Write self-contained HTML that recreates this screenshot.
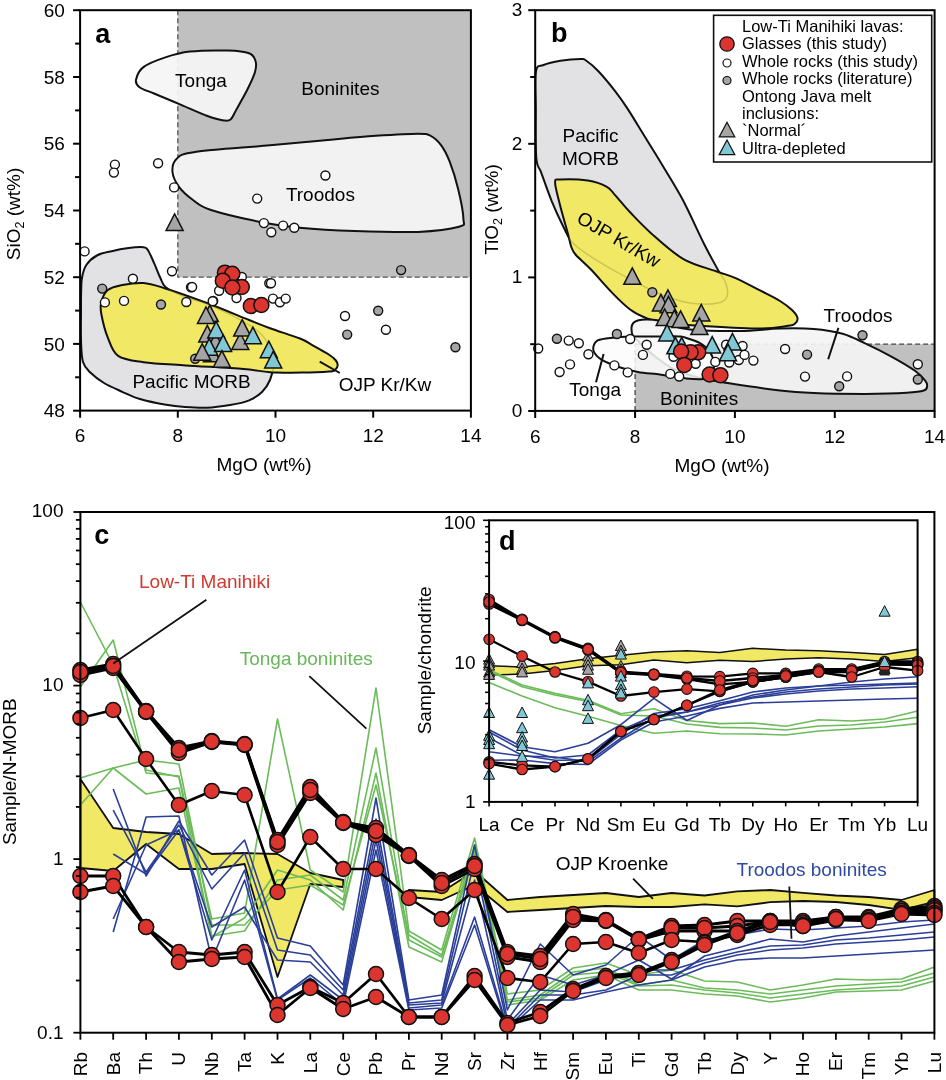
<!DOCTYPE html>
<html><head><meta charset="utf-8"><style>html,body{margin:0;padding:0;background:#fff;}svg{display:block;will-change:transform;}text{font-family:"Liberation Sans", sans-serif;}</style></head><body>
<svg width="946" height="1080" viewBox="0 0 946 1080">
<rect width="946" height="1080" fill="#fff"/><rect x="177.8" y="10.2" width="293.1" height="267" fill="#c0c0c0"/>
<path d="M177.8,10.2 L177.8,277.2 L470.9,277.2" fill="none" stroke="#555" stroke-width="1.3" stroke-dasharray="5,3"/>
<path d="M136,79.8 C136.7,76.4 138.6,70.8 143.4,67.1 C148.2,63.4 156.8,60.2 164.6,57.6 C172.3,55 179.3,52.8 189.9,51.6 C200.5,50.4 218.1,50.3 228,50.6 C237.9,50.9 244.5,51.6 249.1,53.3 C253.7,55 254.5,57.9 255.5,61 C256.5,64.1 256.4,67.1 255,72 C253.6,76.9 250.1,84.1 247,90.3 C243.9,96.5 239.2,104.5 236.4,109.4 C233.7,114.3 232.6,117.7 230.5,119.5 C228.4,121.3 227.8,121 223.8,120.4 C219.9,119.8 214.2,118.4 206.8,115.7 C199.4,113 188.2,107.8 179.4,104.1 C170.6,100.4 160.7,96.3 154,93.5 C147.3,90.7 142.5,89.5 139.5,87.2 C136.5,84.9 135.3,83.2 136,79.8Z" fill="#f5f5f5" fill-opacity="0.93" stroke="#111" stroke-width="2"/>
<path d="M176.5,158.9 C180.2,155.6 179.4,154.2 195,151.9 C210.6,149.6 246.9,147.4 270,145.3 C293.1,143.2 315.8,141 333.4,139.4 C351,137.8 361.6,136.8 375.7,135.8 C389.8,134.9 408.8,133.7 418,133.7 C427.2,133.7 426.8,133.9 430.7,135.8 C434.6,137.7 438,141 441.2,145.3 C444.4,149.6 446.9,154.4 449.7,161.7 C452.5,169 455.9,179.7 458.2,189.2 C460.5,198.7 463.3,212.5 463.4,218.8 C463.5,225.1 466.6,224.6 459,226.8 C451.4,229 435.4,231.2 418,231.9 C400.6,232.6 374.3,231.7 354.6,231 C334.9,230.3 314.7,229.1 299.6,227.7 C284.5,226.3 278.8,225.6 264,222.7 C249.2,219.8 222.8,213.8 211,210 C199.2,206.2 198.3,203.9 193,200 C187.7,196.1 182.4,191.5 179,186.8 C175.6,182.1 172.9,176.7 172.5,172 C172.1,167.3 172.8,162.2 176.5,158.9Z" fill="#f5f5f5" fill-opacity="0.93" stroke="#111" stroke-width="2"/>
<path d="M82,277.7 C82.8,273.5 83.8,268.7 86.3,265 C88.8,261.3 92.7,257.8 96.9,255.5 C101.1,253.2 106.4,252.4 111.7,251.2 C117,249.9 123.3,248.7 128.6,248 C133.9,247.3 140.2,246.8 143.4,247.2 C146.6,247.6 146.2,247.6 148,250.2 C149.8,252.8 151.9,258.3 154,262.9 C156.1,267.5 158.3,273.6 160.3,277.7 C162.3,281.8 161.9,284.3 166,287.5 C170.1,290.7 177.6,294.1 185,297 C192.4,299.9 200.7,301.1 210.4,305.2 C220.1,309.3 234.8,316.7 243.4,321.7 C252,326.7 257.5,330.3 262,335 C266.5,339.7 268.6,345 270.5,350 C272.4,355 273.6,360 273.5,365 C273.4,370 271.9,375.5 270,380 C268.1,384.5 265.5,388.6 262,392 C258.5,395.4 254.4,398.1 249.1,400.3 C243.8,402.5 237.1,403.8 230,405 C222.9,406.2 214.3,407.4 206.8,407.7 C199.3,408 192,407.5 185,407 C178,406.5 172.1,405.8 164.6,404.5 C157.1,403.2 147.1,401.1 140,399 C132.9,396.9 128.3,394.5 122.3,391.8 C116.3,389.1 109.3,386.2 104,383 C98.7,379.8 94.1,376.3 90.6,372.8 C87.1,369.3 84.6,367.5 83,362 C81.4,356.5 81.3,348.7 81,340 C80.7,331.3 81,318.3 81,310 C81,301.7 81,295.4 81.2,290 C81.4,284.6 81.2,281.9 82,277.7Z" fill="#e2e2e4" stroke="#111" stroke-width="2"/>
<clipPath id="cya"><path d="M101.1,303 C102.1,298.9 104,293.3 107.5,290.3 C111,287.3 116.3,286.2 122.3,285 C128.3,283.8 136.3,282.5 143.4,283 C150.5,283.5 154,284.9 164.6,288.2 C175.2,291.5 192.7,297.7 206.8,303 C220.9,308.3 238.6,315.8 249.1,320 C259.6,324.2 261.5,325.1 270,328.2 C278.5,331.3 292.9,335.7 300,338.5 C307.1,341.3 307.6,342.5 312.3,345.1 C317,347.7 324.1,351.5 328,354 C331.9,356.5 333.9,358.1 335.5,360 C337.1,361.9 337.8,363.5 337.7,365.2 C337.6,366.9 336.4,368.9 335,370 C333.6,371.1 334.8,371.2 329.2,371.6 C323.6,372 311.6,372.5 301.7,372.6 C291.8,372.7 279.7,372.8 270,372.2 C260.3,371.6 257.4,370.1 243.4,369 C229.3,367.9 202.4,366.5 185.7,365.4 C169,364.3 154.7,363.8 143.4,362.2 C132.1,360.6 124.1,360.1 118.1,355.9 C112.1,351.7 110.3,343.6 107.5,336.8 C104.7,330 102.6,320.6 101.5,315 C100.4,309.4 100.1,307.1 101.1,303Z"/></clipPath>
<path d="M101.1,303 C102.1,298.9 104,293.3 107.5,290.3 C111,287.3 116.3,286.2 122.3,285 C128.3,283.8 136.3,282.5 143.4,283 C150.5,283.5 154,284.9 164.6,288.2 C175.2,291.5 192.7,297.7 206.8,303 C220.9,308.3 238.6,315.8 249.1,320 C259.6,324.2 261.5,325.1 270,328.2 C278.5,331.3 292.9,335.7 300,338.5 C307.1,341.3 307.6,342.5 312.3,345.1 C317,347.7 324.1,351.5 328,354 C331.9,356.5 333.9,358.1 335.5,360 C337.1,361.9 337.8,363.5 337.7,365.2 C337.6,366.9 336.4,368.9 335,370 C333.6,371.1 334.8,371.2 329.2,371.6 C323.6,372 311.6,372.5 301.7,372.6 C291.8,372.7 279.7,372.8 270,372.2 C260.3,371.6 257.4,370.1 243.4,369 C229.3,367.9 202.4,366.5 185.7,365.4 C169,364.3 154.7,363.8 143.4,362.2 C132.1,360.6 124.1,360.1 118.1,355.9 C112.1,351.7 110.3,343.6 107.5,336.8 C104.7,330 102.6,320.6 101.5,315 C100.4,309.4 100.1,307.1 101.1,303Z" fill="#f1e965" stroke="#111" stroke-width="2"/>
<path d="M82,277.7 C82.8,273.5 83.8,268.7 86.3,265 C88.8,261.3 92.7,257.8 96.9,255.5 C101.1,253.2 106.4,252.4 111.7,251.2 C117,249.9 123.3,248.7 128.6,248 C133.9,247.3 140.2,246.8 143.4,247.2 C146.6,247.6 146.2,247.6 148,250.2 C149.8,252.8 151.9,258.3 154,262.9 C156.1,267.5 158.3,273.6 160.3,277.7 C162.3,281.8 161.9,284.3 166,287.5 C170.1,290.7 177.6,294.1 185,297 C192.4,299.9 200.7,301.1 210.4,305.2 C220.1,309.3 234.8,316.7 243.4,321.7 C252,326.7 257.5,330.3 262,335 C266.5,339.7 268.6,345 270.5,350 C272.4,355 273.6,360 273.5,365 C273.4,370 271.9,375.5 270,380 C268.1,384.5 265.5,388.6 262,392 C258.5,395.4 254.4,398.1 249.1,400.3 C243.8,402.5 237.1,403.8 230,405 C222.9,406.2 214.3,407.4 206.8,407.7 C199.3,408 192,407.5 185,407 C178,406.5 172.1,405.8 164.6,404.5 C157.1,403.2 147.1,401.1 140,399 C132.9,396.9 128.3,394.5 122.3,391.8 C116.3,389.1 109.3,386.2 104,383 C98.7,379.8 94.1,376.3 90.6,372.8 C87.1,369.3 84.6,367.5 83,362 C81.4,356.5 81.3,348.7 81,340 C80.7,331.3 81,318.3 81,310 C81,301.7 81,295.4 81.2,290 C81.4,284.6 81.2,281.9 82,277.7Z" fill="none" stroke="#8a8430" stroke-opacity="0.35" stroke-width="1.5" clip-path="url(#cya)"/>
<path d="M319.7,361.6 L339.8,373" stroke="#111" stroke-width="2"/>
<text x="175.1" y="86.5" font-size="19" text-anchor="start" fill="#000" font-weight="normal" >Tonga</text>
<text x="301.3" y="94.6" font-size="19" text-anchor="start" fill="#000" font-weight="normal" >Boninites</text>
<text x="285.9" y="201.3" font-size="19" text-anchor="start" fill="#000" font-weight="normal" >Troodos</text>
<text x="132.4" y="387.6" font-size="19" text-anchor="start" fill="#000" font-weight="normal" >Pacific MORB</text>
<text x="338.7" y="391.2" font-size="19" text-anchor="start" fill="#000" font-weight="normal" >OJP Kr/Kw</text>
<circle cx="114.9" cy="164.6" r="4.5" fill="#fff" stroke="#111" stroke-width="1.4"/>
<circle cx="113.9" cy="172.6" r="4.5" fill="#fff" stroke="#111" stroke-width="1.4"/>
<circle cx="158.1" cy="163.3" r="4.5" fill="#fff" stroke="#111" stroke-width="1.4"/>
<circle cx="174.1" cy="187.4" r="4.5" fill="#fff" stroke="#111" stroke-width="1.4"/>
<circle cx="257.2" cy="198.6" r="4.5" fill="#fff" stroke="#111" stroke-width="1.4"/>
<circle cx="325.4" cy="175.5" r="4.5" fill="#fff" stroke="#111" stroke-width="1.4"/>
<circle cx="283.1" cy="225.6" r="4.5" fill="#fff" stroke="#111" stroke-width="1.4"/>
<circle cx="294.3" cy="227.7" r="4.5" fill="#fff" stroke="#111" stroke-width="1.4"/>
<circle cx="271.3" cy="232.2" r="4.5" fill="#fff" stroke="#111" stroke-width="1.4"/>
<circle cx="263.9" cy="223.1" r="4.5" fill="#fff" stroke="#111" stroke-width="1.4"/>
<circle cx="84.6" cy="251.4" r="4.5" fill="#fff" stroke="#111" stroke-width="1.4"/>
<circle cx="172" cy="271.3" r="4.5" fill="#fff" stroke="#111" stroke-width="1.4"/>
<circle cx="132.9" cy="278.7" r="4.5" fill="#fff" stroke="#111" stroke-width="1.4"/>
<circle cx="191" cy="287.2" r="4.5" fill="#fff" stroke="#111" stroke-width="1.4"/>
<circle cx="104.9" cy="302.4" r="4.5" fill="#fff" stroke="#111" stroke-width="1.4"/>
<circle cx="124" cy="300.9" r="4.5" fill="#fff" stroke="#111" stroke-width="1.4"/>
<circle cx="186.3" cy="302" r="4.5" fill="#fff" stroke="#111" stroke-width="1.4"/>
<circle cx="213.2" cy="300.9" r="4.5" fill="#fff" stroke="#111" stroke-width="1.4"/>
<circle cx="241.8" cy="277" r="4.5" fill="#fff" stroke="#111" stroke-width="1.4"/>
<circle cx="219.1" cy="290.7" r="4.5" fill="#fff" stroke="#111" stroke-width="1.4"/>
<circle cx="236.5" cy="298.1" r="4.5" fill="#fff" stroke="#111" stroke-width="1.4"/>
<circle cx="192.1" cy="287" r="4.5" fill="#fff" stroke="#111" stroke-width="1.4"/>
<circle cx="212.7" cy="301.3" r="4.5" fill="#fff" stroke="#111" stroke-width="1.4"/>
<circle cx="269.3" cy="283.3" r="4.5" fill="#fff" stroke="#111" stroke-width="1.4"/>
<circle cx="273" cy="298.6" r="4.5" fill="#fff" stroke="#111" stroke-width="1.4"/>
<circle cx="279.9" cy="302.3" r="4.5" fill="#fff" stroke="#111" stroke-width="1.4"/>
<circle cx="285.7" cy="298.6" r="4.5" fill="#fff" stroke="#111" stroke-width="1.4"/>
<circle cx="271" cy="283.3" r="4.5" fill="#fff" stroke="#111" stroke-width="1.4"/>
<circle cx="345" cy="316" r="4.5" fill="#fff" stroke="#111" stroke-width="1.4"/>
<circle cx="385.9" cy="329.7" r="4.5" fill="#fff" stroke="#111" stroke-width="1.4"/>
<circle cx="102.2" cy="288.6" r="4.5" fill="#a5a5a6" stroke="#111" stroke-width="1.4"/>
<circle cx="161" cy="304.5" r="4.5" fill="#a5a5a6" stroke="#111" stroke-width="1.4"/>
<circle cx="195.2" cy="358.8" r="4.5" fill="#a5a5a6" stroke="#111" stroke-width="1.4"/>
<circle cx="401.1" cy="270.1" r="4.5" fill="#a5a5a6" stroke="#111" stroke-width="1.4"/>
<circle cx="378.2" cy="310.7" r="4.5" fill="#a5a5a6" stroke="#111" stroke-width="1.4"/>
<circle cx="347.2" cy="334.6" r="4.5" fill="#a5a5a6" stroke="#111" stroke-width="1.4"/>
<circle cx="455.4" cy="347.3" r="4.5" fill="#a5a5a6" stroke="#111" stroke-width="1.4"/>
<path d="M174.6,213.9 L183.1,230.4 L166.1,230.4 Z" fill="#a5a5a6" stroke="#111" stroke-width="1.5" stroke-linejoin="miter"/>
<path d="M209.8,305.1 L218.3,321.6 L201.3,321.6 Z" fill="#a5a5a6" stroke="#111" stroke-width="1.5" stroke-linejoin="miter"/>
<path d="M206,307 L214.5,323.5 L197.5,323.5 Z" fill="#a5a5a6" stroke="#111" stroke-width="1.5" stroke-linejoin="miter"/>
<path d="M207.3,325.4 L215.8,341.9 L198.8,341.9 Z" fill="#a5a5a6" stroke="#111" stroke-width="1.5" stroke-linejoin="miter"/>
<path d="M215.5,333.2 L224,349.7 L207,349.7 Z" fill="#a5a5a6" stroke="#111" stroke-width="1.5" stroke-linejoin="miter"/>
<path d="M216.2,321.5 L224.7,338 L207.7,338 Z" fill="#80c8d6" stroke="#111" stroke-width="1.5" stroke-linejoin="miter"/>
<path d="M212,345.2 L220.5,361.7 L203.5,361.7 Z" fill="#a5a5a6" stroke="#111" stroke-width="1.5" stroke-linejoin="miter"/>
<path d="M240.3,333 L248.8,349.5 L231.8,349.5 Z" fill="#a5a5a6" stroke="#111" stroke-width="1.5" stroke-linejoin="miter"/>
<path d="M209.2,338.7 L217.7,355.2 L200.7,355.2 Z" fill="#80c8d6" stroke="#111" stroke-width="1.5" stroke-linejoin="miter"/>
<path d="M223.1,334.9 L231.6,351.4 L214.6,351.4 Z" fill="#80c8d6" stroke="#111" stroke-width="1.5" stroke-linejoin="miter"/>
<path d="M202.2,343.7 L210.7,360.2 L193.7,360.2 Z" fill="#a5a5a6" stroke="#111" stroke-width="1.5" stroke-linejoin="miter"/>
<path d="M221.9,350.7 L230.4,367.2 L213.4,367.2 Z" fill="#a5a5a6" stroke="#111" stroke-width="1.5" stroke-linejoin="miter"/>
<path d="M242.2,319.6 L250.7,336.1 L233.7,336.1 Z" fill="#a5a5a6" stroke="#111" stroke-width="1.5" stroke-linejoin="miter"/>
<path d="M252.9,327.2 L261.4,343.7 L244.4,343.7 Z" fill="#80c8d6" stroke="#111" stroke-width="1.5" stroke-linejoin="miter"/>
<path d="M268.8,341.2 L277.3,357.7 L260.3,357.7 Z" fill="#80c8d6" stroke="#111" stroke-width="1.5" stroke-linejoin="miter"/>
<path d="M273.2,351.4 L281.7,367.9 L264.7,367.9 Z" fill="#80c8d6" stroke="#111" stroke-width="1.5" stroke-linejoin="miter"/>
<circle cx="224.9" cy="272.7" r="7.5" fill="#dc3530" stroke="#111" stroke-width="1.5"/>
<circle cx="232.3" cy="273.8" r="7.5" fill="#dc3530" stroke="#111" stroke-width="1.5"/>
<circle cx="222.8" cy="280.7" r="7.5" fill="#dc3530" stroke="#111" stroke-width="1.5"/>
<circle cx="241.8" cy="287" r="7.5" fill="#dc3530" stroke="#111" stroke-width="1.5"/>
<circle cx="232.3" cy="287.5" r="7.5" fill="#dc3530" stroke="#111" stroke-width="1.5"/>
<circle cx="250.8" cy="306" r="7.5" fill="#dc3530" stroke="#111" stroke-width="1.5"/>
<circle cx="261.4" cy="305" r="7.5" fill="#dc3530" stroke="#111" stroke-width="1.5"/>
<rect x="80.1" y="10.2" width="390.8" height="400.4" fill="none" stroke="#000" stroke-width="2"/>
<path d="M73.1,410.7 H80.1" stroke="#000" stroke-width="2"/>
<text x="64.8" y="417.3" font-size="19" text-anchor="end" fill="#000" font-weight="normal" >48</text>
<path d="M75.1,377.3 H80.1" stroke="#000" stroke-width="2"/>
<path d="M73.1,343.9 H80.1" stroke="#000" stroke-width="2"/>
<text x="64.8" y="350.6" font-size="19" text-anchor="end" fill="#000" font-weight="normal" >50</text>
<path d="M75.1,310.6 H80.1" stroke="#000" stroke-width="2"/>
<path d="M73.1,277.2 H80.1" stroke="#000" stroke-width="2"/>
<text x="64.8" y="283.8" font-size="19" text-anchor="end" fill="#000" font-weight="normal" >52</text>
<path d="M75.1,243.8 H80.1" stroke="#000" stroke-width="2"/>
<path d="M73.1,210.5 H80.1" stroke="#000" stroke-width="2"/>
<text x="64.8" y="217.1" font-size="19" text-anchor="end" fill="#000" font-weight="normal" >54</text>
<path d="M75.1,177.1 H80.1" stroke="#000" stroke-width="2"/>
<path d="M73.1,143.7 H80.1" stroke="#000" stroke-width="2"/>
<text x="64.8" y="150.3" font-size="19" text-anchor="end" fill="#000" font-weight="normal" >56</text>
<path d="M75.1,110.4 H80.1" stroke="#000" stroke-width="2"/>
<path d="M73.1,77 H80.1" stroke="#000" stroke-width="2"/>
<text x="64.8" y="83.6" font-size="19" text-anchor="end" fill="#000" font-weight="normal" >58</text>
<path d="M75.1,43.6 H80.1" stroke="#000" stroke-width="2"/>
<path d="M73.1,10.2 H80.1" stroke="#000" stroke-width="2"/>
<text x="64.8" y="16.9" font-size="19" text-anchor="end" fill="#000" font-weight="normal" >60</text>
<path d="M80.1,410.7 V417.7" stroke="#000" stroke-width="2"/>
<text x="80.1" y="442.3" font-size="19" text-anchor="middle" fill="#000" font-weight="normal" >6</text>
<path d="M177.8,410.7 V417.7" stroke="#000" stroke-width="2"/>
<text x="177.8" y="442.3" font-size="19" text-anchor="middle" fill="#000" font-weight="normal" >8</text>
<path d="M275.5,410.7 V417.7" stroke="#000" stroke-width="2"/>
<text x="275.5" y="442.3" font-size="19" text-anchor="middle" fill="#000" font-weight="normal" >10</text>
<path d="M373.2,410.7 V417.7" stroke="#000" stroke-width="2"/>
<text x="373.2" y="442.3" font-size="19" text-anchor="middle" fill="#000" font-weight="normal" >12</text>
<path d="M470.9,410.7 V417.7" stroke="#000" stroke-width="2"/>
<text x="470.9" y="442.3" font-size="19" text-anchor="middle" fill="#000" font-weight="normal" >14</text>
<text x="264" y="470.9" font-size="19" text-anchor="middle" fill="#000" font-weight="normal" >MgO (wt%)</text>
<text transform="translate(19.7,214) rotate(-90)" font-size="19" text-anchor="middle">SiO<tspan font-size="12.5" dy="4">2</tspan><tspan dy="-4"> (wt%)</tspan></text>
<text x="95.2" y="42.8" font-size="27" text-anchor="start" fill="#000" font-weight="bold" >a</text>
<rect x="635.1" y="344.2" width="299.5" height="66.8" fill="#c0c0c0"/>
<path d="M536,71.3 C537.3,63.8 539.4,66.8 543.5,65 C547.6,63.2 554.2,61.7 560.4,60.7 C566.6,59.7 576.2,59 580.5,59 C584.8,59 583,58.5 586,60.5 C589,62.5 593.5,66.1 598.4,71.3 C603.3,76.5 610.4,85.1 615.3,91.4 C620.2,97.8 623.1,101.8 628,109.4 C632.9,117 639.3,127.7 644.9,136.8 C650.5,146 655.4,153.7 661.8,164.3 C668.1,174.9 676,187 683,200.3 C690,213.6 698.1,232.1 704.1,244 C710.1,255.9 715.4,265.2 718.9,271.5 C722.4,277.8 723.9,278.1 725.3,282 C726.7,285.9 728.3,291.3 727.4,294.7 C726.5,298.1 725.6,301 720,302.5 C714.4,304 703.3,304.8 693.6,303.5 C683.9,302.2 674.1,299.7 661.8,294.7 C649.5,289.7 631.9,280.3 619.6,273.6 C607.3,266.9 595.8,259.9 587.9,254.6 C580,249.3 576.1,246.8 572,242 C567.9,237.2 566.4,232.7 563,226 C559.6,219.3 555.5,210.6 551.9,201.7 C548.3,192.8 543.9,180.1 541.3,172.8 C538.7,165.5 537.2,168.5 536.3,158 C535.4,147.5 535.8,124.5 535.8,110 C535.8,95.5 534.7,78.8 536,71.3Z" fill="#e2e2e4" stroke="#111" stroke-width="2"/>
<clipPath id="cyb"><path d="M555.1,182.7 C555.2,178.4 554.9,179.8 560.4,179.5 C565.9,179.2 580.1,179.4 587.9,180.6 C595.6,181.8 602.3,184.4 606.9,186.9 C611.5,189.4 611.4,191.2 615.3,195.4 C619.2,199.6 624.1,206 630.1,212.3 C636.1,218.6 642.5,225.7 651.3,233.4 C660.1,241.2 672.1,252.5 683,258.8 C693.9,265.2 708.1,268.3 716.8,271.5 C725.5,274.7 727.8,274.7 735,277.8 C742.2,280.9 752.5,286.5 760,290.4 C767.5,294.3 774.7,297.7 780,301 C785.3,304.3 789.1,307.2 792,310 C794.9,312.8 797,315.8 797.5,318 C798,320.2 796.6,322.2 795,323.5 C793.4,324.8 793.8,325 788,325.8 C782.2,326.6 774.1,328.5 760,328.5 C745.9,328.5 719.2,326.9 703.4,326 C687.6,325.1 674.8,324.2 665.4,323 C656,321.8 652.9,320.8 647,318.5 C641.1,316.2 635.9,313.8 630.1,309.5 C624.3,305.2 618.5,299.3 612,292.6 C605.5,285.9 597.1,275.9 591,269.5 C584.9,263.1 578.8,258.4 575.5,254.5 C572.2,250.6 572.2,249.4 571,246 C569.8,242.6 569.8,240.8 568,234 C566.2,227.2 562.1,213.6 560,205 C557.9,196.4 555,186.9 555.1,182.7Z"/></clipPath>
<path d="M555.1,182.7 C555.2,178.4 554.9,179.8 560.4,179.5 C565.9,179.2 580.1,179.4 587.9,180.6 C595.6,181.8 602.3,184.4 606.9,186.9 C611.5,189.4 611.4,191.2 615.3,195.4 C619.2,199.6 624.1,206 630.1,212.3 C636.1,218.6 642.5,225.7 651.3,233.4 C660.1,241.2 672.1,252.5 683,258.8 C693.9,265.2 708.1,268.3 716.8,271.5 C725.5,274.7 727.8,274.7 735,277.8 C742.2,280.9 752.5,286.5 760,290.4 C767.5,294.3 774.7,297.7 780,301 C785.3,304.3 789.1,307.2 792,310 C794.9,312.8 797,315.8 797.5,318 C798,320.2 796.6,322.2 795,323.5 C793.4,324.8 793.8,325 788,325.8 C782.2,326.6 774.1,328.5 760,328.5 C745.9,328.5 719.2,326.9 703.4,326 C687.6,325.1 674.8,324.2 665.4,323 C656,321.8 652.9,320.8 647,318.5 C641.1,316.2 635.9,313.8 630.1,309.5 C624.3,305.2 618.5,299.3 612,292.6 C605.5,285.9 597.1,275.9 591,269.5 C584.9,263.1 578.8,258.4 575.5,254.5 C572.2,250.6 572.2,249.4 571,246 C569.8,242.6 569.8,240.8 568,234 C566.2,227.2 562.1,213.6 560,205 C557.9,196.4 555,186.9 555.1,182.7Z" fill="#f1e965" stroke="#111" stroke-width="2"/>
<path d="M536,71.3 C537.3,63.8 539.4,66.8 543.5,65 C547.6,63.2 554.2,61.7 560.4,60.7 C566.6,59.7 576.2,59 580.5,59 C584.8,59 583,58.5 586,60.5 C589,62.5 593.5,66.1 598.4,71.3 C603.3,76.5 610.4,85.1 615.3,91.4 C620.2,97.8 623.1,101.8 628,109.4 C632.9,117 639.3,127.7 644.9,136.8 C650.5,146 655.4,153.7 661.8,164.3 C668.1,174.9 676,187 683,200.3 C690,213.6 698.1,232.1 704.1,244 C710.1,255.9 715.4,265.2 718.9,271.5 C722.4,277.8 723.9,278.1 725.3,282 C726.7,285.9 728.3,291.3 727.4,294.7 C726.5,298.1 725.6,301 720,302.5 C714.4,304 703.3,304.8 693.6,303.5 C683.9,302.2 674.1,299.7 661.8,294.7 C649.5,289.7 631.9,280.3 619.6,273.6 C607.3,266.9 595.8,259.9 587.9,254.6 C580,249.3 576.1,246.8 572,242 C567.9,237.2 566.4,232.7 563,226 C559.6,219.3 555.5,210.6 551.9,201.7 C548.3,192.8 543.9,180.1 541.3,172.8 C538.7,165.5 537.2,168.5 536.3,158 C535.4,147.5 535.8,124.5 535.8,110 C535.8,95.5 534.7,78.8 536,71.3Z" fill="none" stroke="#8a8430" stroke-opacity="0.35" stroke-width="1.5" clip-path="url(#cyb)"/>
<path d="M635.1,411 V344.2" stroke="#444" stroke-width="1.3" stroke-dasharray="5,3"/>
<path d="M635.1,344.2 H934.6" stroke="#444" stroke-width="1.3" stroke-dasharray="5,3"/>
<path d="M633,336 C631.6,333.5 631.4,330.1 631.5,327.9 C631.6,325.7 632.3,324.1 633.5,322.8 C634.7,321.5 636.6,320.8 638.6,320.3 C640.6,319.8 642.3,319.6 645.4,319.6 C648.5,319.6 653.1,319.4 657.2,320.3 C661.3,321.2 664.5,323.5 670,325 C675.5,326.5 678.3,328.5 690,329.5 C701.7,330.5 725,331.2 740,331 C755,330.8 767.7,328.8 780,328.5 C792.3,328.2 803.4,328.1 813.8,329 C824.2,329.9 834.1,331.4 842.6,333.8 C851.1,336.2 856.7,339.4 864.6,343.1 C872.5,346.8 881.5,351.2 890,355.8 C898.5,360.4 909.4,366.8 915.3,371 C921.2,375.2 923.5,378.6 925.5,381.2 C927.5,383.8 927.4,384.8 927.1,386.3 C926.8,387.9 927.2,389.4 923.8,390.5 C920.4,391.6 916.7,392.1 906.8,392.7 C896.9,393.3 880.1,393.8 864.6,393.9 C849.1,393.9 827.9,393.6 813.8,393 C799.7,392.4 793.9,392.1 780,390.5 C766.1,388.9 743.1,385.5 730.7,383.6 C718.3,381.7 712.5,380.6 705.4,379.1 C698.3,377.6 693.9,376.5 688,374.5 C682.1,372.5 676,370.4 670,367 C664,363.6 657,358 652,354 C647,350 643.2,346 640,343 C636.8,340 634.4,338.5 633,336Z" fill="#f4f4f4" fill-opacity="0.92" stroke="#111" stroke-width="2"/>
<path d="M593.3,347 C593.8,344.9 594.9,341.9 597.7,340.4 C600.6,338.9 604.5,338.5 610.4,337.9 C616.3,337.3 625,336.9 633.2,336.6 C641.4,336.4 652,336.4 659.7,336.4 C667.4,336.4 675,336.2 679.2,336.4 C683.4,336.6 681.5,336.4 685,337.5 C688.5,338.6 695.8,340.7 700,343.1 C704.2,345.5 707.7,348.5 710,352 C712.3,355.5 713.8,360.2 714,364 C714.2,367.8 712.8,372.5 711,375 C709.2,377.5 707.1,378.4 703,379 C698.9,379.6 693.5,379.2 686.5,378.5 C679.5,377.8 669.2,375.8 661.1,374.7 C653,373.6 644.8,373.3 637.8,372 C630.8,370.7 624.9,369.1 618.8,367 C612.7,364.9 605,361.6 601,359.3 C597,357 595.8,355.1 594.5,353 C593.2,350.9 592.8,349.1 593.3,347Z" fill="#fcfcfc" fill-opacity="0.85" stroke="#111" stroke-width="2"/>
<path d="M603.6,354 L596,382.2 M838.4,327.9 L828.2,359.2" stroke="#111" stroke-width="2"/>
<text x="590.5" y="142" font-size="19" text-anchor="middle" fill="#000" font-weight="normal" >Pacific</text>
<text x="590.5" y="165.2" font-size="19" text-anchor="middle" fill="#000" font-weight="normal" >MORB</text>
<text transform="translate(615.6,245) rotate(30)" font-size="19" text-anchor="middle">OJP Kr/Kw</text>
<text x="569.3" y="396.1" font-size="19" text-anchor="start" fill="#000" font-weight="normal" >Tonga</text>
<text x="660" y="404.5" font-size="19" text-anchor="start" fill="#000" font-weight="normal" >Boninites</text>
<text x="823.6" y="321.6" font-size="19" text-anchor="start" fill="#000" font-weight="normal" >Troodos</text>
<circle cx="538.2" cy="348.5" r="4.5" fill="#fff" stroke="#111" stroke-width="1.4"/>
<circle cx="568.7" cy="340.6" r="4.5" fill="#fff" stroke="#111" stroke-width="1.4"/>
<circle cx="578.8" cy="343.2" r="4.5" fill="#fff" stroke="#111" stroke-width="1.4"/>
<circle cx="588.4" cy="354.3" r="4.5" fill="#fff" stroke="#111" stroke-width="1.4"/>
<circle cx="570" cy="364.4" r="4.5" fill="#fff" stroke="#111" stroke-width="1.4"/>
<circle cx="559.6" cy="372" r="4.5" fill="#fff" stroke="#111" stroke-width="1.4"/>
<circle cx="630.2" cy="339" r="4.5" fill="#fff" stroke="#111" stroke-width="1.4"/>
<circle cx="614.4" cy="365.4" r="4.5" fill="#fff" stroke="#111" stroke-width="1.4"/>
<circle cx="627.7" cy="372.4" r="4.5" fill="#fff" stroke="#111" stroke-width="1.4"/>
<circle cx="646.7" cy="344.7" r="4.5" fill="#fff" stroke="#111" stroke-width="1.4"/>
<circle cx="642.9" cy="354.9" r="4.5" fill="#fff" stroke="#111" stroke-width="1.4"/>
<circle cx="673.5" cy="356.8" r="4.5" fill="#fff" stroke="#111" stroke-width="1.4"/>
<circle cx="695.7" cy="363.8" r="4.5" fill="#fff" stroke="#111" stroke-width="1.4"/>
<circle cx="670.3" cy="373.9" r="4.5" fill="#fff" stroke="#111" stroke-width="1.4"/>
<circle cx="679.2" cy="376.5" r="4.5" fill="#fff" stroke="#111" stroke-width="1.4"/>
<circle cx="715.3" cy="361.9" r="4.5" fill="#fff" stroke="#111" stroke-width="1.4"/>
<circle cx="729.3" cy="362.5" r="4.5" fill="#fff" stroke="#111" stroke-width="1.4"/>
<circle cx="738.8" cy="360" r="4.5" fill="#fff" stroke="#111" stroke-width="1.4"/>
<circle cx="726.1" cy="344.7" r="4.5" fill="#fff" stroke="#111" stroke-width="1.4"/>
<circle cx="742.6" cy="346" r="4.5" fill="#fff" stroke="#111" stroke-width="1.4"/>
<circle cx="744.5" cy="354.9" r="4.5" fill="#fff" stroke="#111" stroke-width="1.4"/>
<circle cx="753.4" cy="360.6" r="4.5" fill="#fff" stroke="#111" stroke-width="1.4"/>
<circle cx="785.1" cy="349" r="4.5" fill="#fff" stroke="#111" stroke-width="1.4"/>
<circle cx="805" cy="376.6" r="4.5" fill="#fff" stroke="#111" stroke-width="1.4"/>
<circle cx="847.1" cy="376.4" r="4.5" fill="#fff" stroke="#111" stroke-width="1.4"/>
<circle cx="917.8" cy="364.3" r="4.5" fill="#fff" stroke="#111" stroke-width="1.4"/>
<circle cx="556.9" cy="338.8" r="4.5" fill="#a5a5a6" stroke="#111" stroke-width="1.4"/>
<circle cx="616.9" cy="334" r="4.5" fill="#a5a5a6" stroke="#111" stroke-width="1.4"/>
<circle cx="652.3" cy="292.3" r="4.5" fill="#a5a5a6" stroke="#111" stroke-width="1.4"/>
<circle cx="807.1" cy="354.6" r="4.5" fill="#a5a5a6" stroke="#111" stroke-width="1.4"/>
<circle cx="862.5" cy="335.2" r="4.5" fill="#a5a5a6" stroke="#111" stroke-width="1.4"/>
<circle cx="839.2" cy="386.3" r="4.5" fill="#a5a5a6" stroke="#111" stroke-width="1.4"/>
<circle cx="917.8" cy="379.5" r="4.5" fill="#a5a5a6" stroke="#111" stroke-width="1.4"/>
<path d="M632.3,267.8 L640.8,284.3 L623.8,284.3 Z" fill="#a5a5a6" stroke="#111" stroke-width="1.5" stroke-linejoin="miter"/>
<path d="M667.9,289.9 L676.4,306.4 L659.4,306.4 Z" fill="#a5a5a6" stroke="#111" stroke-width="1.5" stroke-linejoin="miter"/>
<path d="M660.9,294.4 L669.4,310.9 L652.4,310.9 Z" fill="#a5a5a6" stroke="#111" stroke-width="1.5" stroke-linejoin="miter"/>
<path d="M668.5,296.3 L677,312.8 L660,312.8 Z" fill="#a5a5a6" stroke="#111" stroke-width="1.5" stroke-linejoin="miter"/>
<path d="M664.7,309 L673.2,325.5 L656.2,325.5 Z" fill="#a5a5a6" stroke="#111" stroke-width="1.5" stroke-linejoin="miter"/>
<path d="M674.3,310.2 L682.8,326.7 L665.8,326.7 Z" fill="#a5a5a6" stroke="#111" stroke-width="1.5" stroke-linejoin="miter"/>
<path d="M680.6,310.9 L689.1,327.4 L672.1,327.4 Z" fill="#a5a5a6" stroke="#111" stroke-width="1.5" stroke-linejoin="miter"/>
<path d="M701.3,304.5 L709.8,321 L692.8,321 Z" fill="#a5a5a6" stroke="#111" stroke-width="1.5" stroke-linejoin="miter"/>
<path d="M699.4,317.9 L707.9,334.4 L690.9,334.4 Z" fill="#a5a5a6" stroke="#111" stroke-width="1.5" stroke-linejoin="miter"/>
<path d="M667.1,324.5 L675.6,341 L658.6,341 Z" fill="#80c8d6" stroke="#111" stroke-width="1.5" stroke-linejoin="miter"/>
<path d="M675.4,337.3 L683.9,353.8 L666.9,353.8 Z" fill="#80c8d6" stroke="#111" stroke-width="1.5" stroke-linejoin="miter"/>
<path d="M681.7,337.3 L690.2,353.8 L673.2,353.8 Z" fill="#80c8d6" stroke="#111" stroke-width="1.5" stroke-linejoin="miter"/>
<path d="M712.2,336.6 L720.7,353.1 L703.7,353.1 Z" fill="#80c8d6" stroke="#111" stroke-width="1.5" stroke-linejoin="miter"/>
<path d="M732.5,333.5 L741,350 L724,350 Z" fill="#80c8d6" stroke="#111" stroke-width="1.5" stroke-linejoin="miter"/>
<path d="M728,344.2 L736.5,360.7 L719.5,360.7 Z" fill="#80c8d6" stroke="#111" stroke-width="1.5" stroke-linejoin="miter"/>
<circle cx="698.2" cy="352.3" r="7.5" fill="#dc3530" stroke="#111" stroke-width="1.5"/>
<circle cx="690.6" cy="352.3" r="7.5" fill="#dc3530" stroke="#111" stroke-width="1.5"/>
<circle cx="681.1" cy="351.5" r="7.5" fill="#dc3530" stroke="#111" stroke-width="1.5"/>
<circle cx="684.3" cy="365" r="7.5" fill="#dc3530" stroke="#111" stroke-width="1.5"/>
<circle cx="709.6" cy="374.5" r="7.5" fill="#dc3530" stroke="#111" stroke-width="1.5"/>
<circle cx="720.4" cy="375.2" r="7.5" fill="#dc3530" stroke="#111" stroke-width="1.5"/>
<rect x="713.6" y="15.3" width="218.1" height="146.7" fill="#fff" stroke="#111" stroke-width="1.6"/>
<text x="742" y="31.9" font-size="16.5" text-anchor="start" fill="#000" font-weight="normal" >Low-Ti Manihiki lavas:</text>
<text x="742" y="49.3" font-size="16.5" text-anchor="start" fill="#000" font-weight="normal" >Glasses (this study)</text>
<text x="742" y="66.7" font-size="16.5" text-anchor="start" fill="#000" font-weight="normal" >Whole rocks (this study)</text>
<text x="742" y="84.1" font-size="16.5" text-anchor="start" fill="#000" font-weight="normal" >Whole rocks (literature)</text>
<text x="742" y="101.5" font-size="16.5" text-anchor="start" fill="#000" font-weight="normal" >Ontong Java melt</text>
<text x="742" y="118.9" font-size="16.5" text-anchor="start" fill="#000" font-weight="normal" >inclusions:</text>
<text x="742" y="136.3" font-size="16.5" text-anchor="start" fill="#000" font-weight="normal" >`Normal´</text>
<text x="742" y="153.7" font-size="16.5" text-anchor="start" fill="#000" font-weight="normal" >Ultra-depleted</text>
<circle cx="727" cy="44" r="7.2" fill="#dc3530" stroke="#111" stroke-width="1.3"/>
<circle cx="727" cy="63" r="4" fill="#fff" stroke="#111" stroke-width="1.2"/>
<circle cx="727" cy="80.5" r="4" fill="#a5a5a6" stroke="#111" stroke-width="1.2"/>
<path d="M727,122.3 L734.8,136.9 L719.2,136.9 Z" fill="#a5a5a6" stroke="#111" stroke-width="1.2" stroke-linejoin="miter"/>
<path d="M727,140 L734.8,154.6 L719.2,154.6 Z" fill="#80c8d6" stroke="#111" stroke-width="1.2" stroke-linejoin="miter"/>
<rect x="535.2" y="10.2" width="399.4" height="400.7" fill="none" stroke="#000" stroke-width="2"/>
<path d="M528.2,411 H535.2" stroke="#000" stroke-width="2"/>
<text x="522.3" y="417" font-size="19" text-anchor="end" fill="#000" font-weight="normal" >0</text>
<path d="M530.2,344.2 H535.2" stroke="#000" stroke-width="2"/>
<path d="M528.2,277.4 H535.2" stroke="#000" stroke-width="2"/>
<text x="522.3" y="283.4" font-size="19" text-anchor="end" fill="#000" font-weight="normal" >1</text>
<path d="M530.2,210.6 H535.2" stroke="#000" stroke-width="2"/>
<path d="M528.2,143.8 H535.2" stroke="#000" stroke-width="2"/>
<text x="522.3" y="149.8" font-size="19" text-anchor="end" fill="#000" font-weight="normal" >2</text>
<path d="M530.2,77 H535.2" stroke="#000" stroke-width="2"/>
<path d="M528.2,10.2 H535.2" stroke="#000" stroke-width="2"/>
<text x="522.3" y="16.2" font-size="19" text-anchor="end" fill="#000" font-weight="normal" >3</text>
<path d="M535.2,411 V418" stroke="#000" stroke-width="2"/>
<text x="535.2" y="442.5" font-size="19" text-anchor="middle" fill="#000" font-weight="normal" >6</text>
<path d="M635.1,411 V418" stroke="#000" stroke-width="2"/>
<text x="635.1" y="442.5" font-size="19" text-anchor="middle" fill="#000" font-weight="normal" >8</text>
<path d="M734.9,411 V418" stroke="#000" stroke-width="2"/>
<text x="734.9" y="442.5" font-size="19" text-anchor="middle" fill="#000" font-weight="normal" >10</text>
<path d="M834.8,411 V418" stroke="#000" stroke-width="2"/>
<text x="834.8" y="442.5" font-size="19" text-anchor="middle" fill="#000" font-weight="normal" >12</text>
<path d="M934.6,411 V418" stroke="#000" stroke-width="2"/>
<text x="934.6" y="442.5" font-size="19" text-anchor="middle" fill="#000" font-weight="normal" >14</text>
<text x="722" y="471.5" font-size="19" text-anchor="middle" fill="#000" font-weight="normal" >MgO (wt%)</text>
<text transform="translate(498,209.5) rotate(-90)" font-size="19" text-anchor="middle">TiO<tspan font-size="12.5" dy="4">2</tspan><tspan dy="-4"> (wt%)</tspan></text>
<text x="550.9" y="42.2" font-size="27" text-anchor="start" fill="#000" font-weight="bold" >b</text>
<path d="M80.4,779 L113.2,828 L146.1,832 L178.9,834 L211.8,854 L244.6,853 L277.5,854 L310.3,873 L343.2,880 L343.2,887 L310.3,884 L277.5,977 L244.6,864 L211.8,869 L178.9,869 L146.1,844 L113.2,871 L80.4,868Z" fill="#f1e965" stroke="#111" stroke-width="1.8" stroke-linejoin="round"/>
<path d="M408.9,890 L441.7,892 L474.6,871 L507.4,900 L540.2,897 L573.1,895 L605.9,893 L638.8,897 L671.6,893 L704.5,895.5 L737.3,891.4 L770.2,890 L803,892.8 L835.9,895.5 L868.7,897 L901.5,900 L934.4,890 L934.4,902 L901.5,909.8 L868.7,905 L835.9,902 L803,901 L770.2,902.2 L737.3,906.3 L704.5,904.4 L671.6,907 L638.8,907 L605.9,906 L573.1,908 L540.2,910 L507.4,912 L474.6,885 L441.7,900 L408.9,897Z" fill="#f1e965" stroke="#111" stroke-width="1.8" stroke-linejoin="round"/>
<path d="M80.4,602 L113.2,665 L146.1,773 L178.9,776 L211.8,919 L244.6,913 L277.5,719 L310.3,870 L343.2,892 L376,688 L408.9,931 L441.7,950 L474.6,838 L507.4,994 L540.2,990 L573.1,968 L605.9,963 L638.8,975 L671.6,970 L704.5,981 L737.3,982 L770.2,990 L803,985 L835.9,979 L868.7,980 L901.5,979 L934.4,967" fill="none" stroke="#6cbb5a" stroke-width="1.6" stroke-linejoin="round" />
<path d="M80.4,687 L113.2,640 L146.1,770 L178.9,777 L211.8,936 L244.6,931 L277.5,880 L310.3,875 L343.2,900 L376,748 L408.9,940 L441.7,957 L474.6,845 L507.4,1000 L540.2,995 L573.1,972 L605.9,968 L638.8,985 L671.6,980 L704.5,988 L737.3,990 L770.2,994 L803,990 L835.9,986 L868.7,984 L901.5,982 L934.4,973" fill="none" stroke="#6cbb5a" stroke-width="1.6" stroke-linejoin="round" />
<path d="M80.4,778 L113.2,768 L146.1,794 L178.9,788 L211.8,937 L244.6,918 L277.5,870 L310.3,880 L343.2,910 L376,773 L408.9,947 L441.7,962 L474.6,850 L507.4,1005 L540.2,1000 L573.1,980 L605.9,975 L638.8,990 L671.6,990 L704.5,994 L737.3,996 L770.2,1002 L803,998 L835.9,992 L868.7,991 L901.5,990 L934.4,981" fill="none" stroke="#6cbb5a" stroke-width="1.6" stroke-linejoin="round" />
<path d="M80.4,805 L113.2,768 L146.1,760 L178.9,764 L211.8,925 L244.6,925 L277.5,890 L310.3,885 L343.2,905 L376,785 L408.9,935 L441.7,955 L474.6,855 L507.4,1002 L540.2,998 L573.1,975 L605.9,972 L638.8,986 L671.6,985 L704.5,990 L737.3,993 L770.2,998 L803,994 L835.9,990 L868.7,988 L901.5,986 L934.4,977" fill="none" stroke="#6cbb5a" stroke-width="1.6" stroke-linejoin="round" />
<path d="M113.2,789 L146.1,876 L178.9,821 L211.8,875 L244.6,840 L277.5,938 L310.3,946 L343.2,985 L376,798 L408.9,1000 L441.7,995 L474.6,845 L507.4,1010 L540.2,944 L573.1,975 L605.9,965 L638.8,936 L671.6,960 L704.5,940 L737.3,935 L770.2,929 L803,930 L835.9,928 L868.7,926 L901.5,922 L934.4,920" fill="none" stroke="#2b3f98" stroke-width="1.6" stroke-linejoin="round" />
<path d="M113.2,810 L146.1,872 L178.9,825 L211.8,889 L244.6,853 L277.5,950 L310.3,955 L343.2,990 L376,819 L408.9,1003 L441.7,1000 L474.6,860 L507.4,1020 L540.2,975 L573.1,985 L605.9,975 L638.8,960 L671.6,979 L704.5,956 L737.3,948 L770.2,939 L803,942 L835.9,936 L868.7,932 L901.5,928 L934.4,924" fill="none" stroke="#2b3f98" stroke-width="1.6" stroke-linejoin="round" />
<path d="M113.2,854 L146.1,874 L178.9,830 L211.8,927 L244.6,907 L277.5,960 L310.3,962 L343.2,995 L376,830 L408.9,1005 L441.7,1003 L474.6,880 L507.4,1025 L540.2,990 L573.1,992 L605.9,980 L638.8,970 L671.6,970 L704.5,960 L737.3,952 L770.2,946 L803,945 L835.9,940 L868.7,938 L901.5,935 L934.4,932" fill="none" stroke="#2b3f98" stroke-width="1.6" stroke-linejoin="round" />
<path d="M113.2,919 L146.1,845 L178.9,830 L211.8,940 L244.6,870 L277.5,999 L310.3,975 L343.2,1000 L376,840 L408.9,1008 L441.7,1005 L474.6,917 L507.4,1028 L540.2,995 L573.1,995 L605.9,990 L638.8,975 L671.6,975 L704.5,963 L737.3,955 L770.2,950 L803,948 L835.9,944 L868.7,942 L901.5,940 L934.4,937" fill="none" stroke="#2b3f98" stroke-width="1.6" stroke-linejoin="round" />
<path d="M113.2,932 L146.1,817 L178.9,816 L211.8,960 L244.6,880 L277.5,1000 L310.3,978 L343.2,1005 L376,850 L408.9,1010 L441.7,1008 L474.6,925 L507.4,1030 L540.2,1000 L573.1,1000 L605.9,992 L638.8,985 L671.6,980 L704.5,967 L737.3,960 L770.2,958 L803,958 L835.9,956 L868.7,954 L901.5,952 L934.4,950" fill="none" stroke="#2b3f98" stroke-width="1.6" stroke-linejoin="round" />
<path d="M80.4,670 L113.2,664 L146.1,711 L178.9,748 L211.8,741 L244.6,744 L277.5,840 L310.3,787 L343.2,822 L376,828 L408.9,855 L441.7,880 L474.6,864 L507.4,952 L540.2,956 L573.1,914 L605.9,920 L638.8,939 L671.6,926 L704.5,925 L737.3,921 L770.2,921 L803,921 L835.9,917 L868.7,917 L901.5,909 L934.4,906" fill="none" stroke="#000" stroke-width="3.0" stroke-linejoin="round" />
<path d="M80.4,675 L113.2,668 L146.1,712 L178.9,753 L211.8,742 L244.6,745 L277.5,845 L310.3,793 L343.2,823 L376,835 L408.9,856 L441.7,886 L474.6,869 L507.4,957 L540.2,962 L573.1,920 L605.9,921 L638.8,940 L671.6,931 L704.5,931 L737.3,931 L770.2,922 L803,926 L835.9,920 L868.7,920 L901.5,913 L934.4,910" fill="none" stroke="#000" stroke-width="3.0" stroke-linejoin="round" />
<path d="M80.4,672 L113.2,666 L146.1,711.5 L178.9,750 L211.8,741.5 L244.6,744.5 L277.5,842 L310.3,790 L343.2,822.5 L376,831 L408.9,855.5 L441.7,883 L474.6,866 L507.4,954 L540.2,959 L573.1,917 L605.9,920.5 L638.8,939.5 L671.6,928 L704.5,928 L737.3,926 L770.2,921.5 L803,923 L835.9,918 L868.7,918 L901.5,911 L934.4,908" fill="none" stroke="#000" stroke-width="3.0" stroke-linejoin="round" />
<path d="M80.4,718 L113.2,710 L146.1,759 L178.9,805 L211.8,791 L244.6,795 L277.5,892 L310.3,837 L343.2,869 L376,869 L408.9,898 L441.7,919 L474.6,890 L507.4,978 L540.2,982 L573.1,944 L605.9,942 L638.8,953 L671.6,940 L704.5,942 L737.3,935 L770.2,925 L803,925 L835.9,918 L868.7,918 L901.5,911 L934.4,910" fill="none" stroke="#000" stroke-width="2.6" stroke-linejoin="round" />
<path d="M80.4,876 L113.2,876 L146.1,927 L178.9,952 L211.8,955 L244.6,952 L277.5,1005 L310.3,987 L343.2,1003 L376,974 L408.9,1017 L441.7,1017 L474.6,976 L507.4,1023 L540.2,1012 L573.1,989 L605.9,976 L638.8,973 L671.6,960 L704.5,943 L737.3,931 L770.2,921 L803,926 L835.9,917 L868.7,920 L901.5,913 L934.4,913" fill="none" stroke="#000" stroke-width="2.8" stroke-linejoin="round" />
<path d="M80.4,892 L113.2,886 L146.1,927 L178.9,962 L211.8,959 L244.6,957 L277.5,1015 L310.3,988 L343.2,1009 L376,997 L408.9,1017 L441.7,1017 L474.6,980 L507.4,1025 L540.2,1016 L573.1,991 L605.9,978 L638.8,975 L671.6,962 L704.5,945 L737.3,933 L770.2,922 L803,926 L835.9,919 L868.7,921 L901.5,914 L934.4,915" fill="none" stroke="#000" stroke-width="2.8" stroke-linejoin="round" />
<circle cx="80.4" cy="670" r="7.5" fill="#dc3530" stroke="#111" stroke-width="1.5"/>
<circle cx="113.2" cy="664" r="7.5" fill="#dc3530" stroke="#111" stroke-width="1.5"/>
<circle cx="146.1" cy="711" r="7.5" fill="#dc3530" stroke="#111" stroke-width="1.5"/>
<circle cx="178.9" cy="748" r="7.5" fill="#dc3530" stroke="#111" stroke-width="1.5"/>
<circle cx="211.8" cy="741" r="7.5" fill="#dc3530" stroke="#111" stroke-width="1.5"/>
<circle cx="244.6" cy="744" r="7.5" fill="#dc3530" stroke="#111" stroke-width="1.5"/>
<circle cx="277.5" cy="840" r="7.5" fill="#dc3530" stroke="#111" stroke-width="1.5"/>
<circle cx="310.3" cy="787" r="7.5" fill="#dc3530" stroke="#111" stroke-width="1.5"/>
<circle cx="343.2" cy="822" r="7.5" fill="#dc3530" stroke="#111" stroke-width="1.5"/>
<circle cx="376" cy="828" r="7.5" fill="#dc3530" stroke="#111" stroke-width="1.5"/>
<circle cx="408.9" cy="855" r="7.5" fill="#dc3530" stroke="#111" stroke-width="1.5"/>
<circle cx="441.7" cy="880" r="7.5" fill="#dc3530" stroke="#111" stroke-width="1.5"/>
<circle cx="474.6" cy="864" r="7.5" fill="#dc3530" stroke="#111" stroke-width="1.5"/>
<circle cx="507.4" cy="952" r="7.5" fill="#dc3530" stroke="#111" stroke-width="1.5"/>
<circle cx="540.2" cy="956" r="7.5" fill="#dc3530" stroke="#111" stroke-width="1.5"/>
<circle cx="573.1" cy="914" r="7.5" fill="#dc3530" stroke="#111" stroke-width="1.5"/>
<circle cx="605.9" cy="920" r="7.5" fill="#dc3530" stroke="#111" stroke-width="1.5"/>
<circle cx="638.8" cy="939" r="7.5" fill="#dc3530" stroke="#111" stroke-width="1.5"/>
<circle cx="671.6" cy="926" r="7.5" fill="#dc3530" stroke="#111" stroke-width="1.5"/>
<circle cx="704.5" cy="925" r="7.5" fill="#dc3530" stroke="#111" stroke-width="1.5"/>
<circle cx="737.3" cy="921" r="7.5" fill="#dc3530" stroke="#111" stroke-width="1.5"/>
<circle cx="770.2" cy="921" r="7.5" fill="#dc3530" stroke="#111" stroke-width="1.5"/>
<circle cx="803" cy="921" r="7.5" fill="#dc3530" stroke="#111" stroke-width="1.5"/>
<circle cx="835.9" cy="917" r="7.5" fill="#dc3530" stroke="#111" stroke-width="1.5"/>
<circle cx="868.7" cy="917" r="7.5" fill="#dc3530" stroke="#111" stroke-width="1.5"/>
<circle cx="901.5" cy="909" r="7.5" fill="#dc3530" stroke="#111" stroke-width="1.5"/>
<circle cx="934.4" cy="906" r="7.5" fill="#dc3530" stroke="#111" stroke-width="1.5"/>
<circle cx="80.4" cy="675" r="7.5" fill="#dc3530" stroke="#111" stroke-width="1.5"/>
<circle cx="113.2" cy="668" r="7.5" fill="#dc3530" stroke="#111" stroke-width="1.5"/>
<circle cx="146.1" cy="712" r="7.5" fill="#dc3530" stroke="#111" stroke-width="1.5"/>
<circle cx="178.9" cy="753" r="7.5" fill="#dc3530" stroke="#111" stroke-width="1.5"/>
<circle cx="211.8" cy="742" r="7.5" fill="#dc3530" stroke="#111" stroke-width="1.5"/>
<circle cx="244.6" cy="745" r="7.5" fill="#dc3530" stroke="#111" stroke-width="1.5"/>
<circle cx="277.5" cy="845" r="7.5" fill="#dc3530" stroke="#111" stroke-width="1.5"/>
<circle cx="310.3" cy="793" r="7.5" fill="#dc3530" stroke="#111" stroke-width="1.5"/>
<circle cx="343.2" cy="823" r="7.5" fill="#dc3530" stroke="#111" stroke-width="1.5"/>
<circle cx="376" cy="835" r="7.5" fill="#dc3530" stroke="#111" stroke-width="1.5"/>
<circle cx="408.9" cy="856" r="7.5" fill="#dc3530" stroke="#111" stroke-width="1.5"/>
<circle cx="441.7" cy="886" r="7.5" fill="#dc3530" stroke="#111" stroke-width="1.5"/>
<circle cx="474.6" cy="869" r="7.5" fill="#dc3530" stroke="#111" stroke-width="1.5"/>
<circle cx="507.4" cy="957" r="7.5" fill="#dc3530" stroke="#111" stroke-width="1.5"/>
<circle cx="540.2" cy="962" r="7.5" fill="#dc3530" stroke="#111" stroke-width="1.5"/>
<circle cx="573.1" cy="920" r="7.5" fill="#dc3530" stroke="#111" stroke-width="1.5"/>
<circle cx="605.9" cy="921" r="7.5" fill="#dc3530" stroke="#111" stroke-width="1.5"/>
<circle cx="638.8" cy="940" r="7.5" fill="#dc3530" stroke="#111" stroke-width="1.5"/>
<circle cx="671.6" cy="931" r="7.5" fill="#dc3530" stroke="#111" stroke-width="1.5"/>
<circle cx="704.5" cy="931" r="7.5" fill="#dc3530" stroke="#111" stroke-width="1.5"/>
<circle cx="737.3" cy="931" r="7.5" fill="#dc3530" stroke="#111" stroke-width="1.5"/>
<circle cx="770.2" cy="922" r="7.5" fill="#dc3530" stroke="#111" stroke-width="1.5"/>
<circle cx="803" cy="926" r="7.5" fill="#dc3530" stroke="#111" stroke-width="1.5"/>
<circle cx="835.9" cy="920" r="7.5" fill="#dc3530" stroke="#111" stroke-width="1.5"/>
<circle cx="868.7" cy="920" r="7.5" fill="#dc3530" stroke="#111" stroke-width="1.5"/>
<circle cx="901.5" cy="913" r="7.5" fill="#dc3530" stroke="#111" stroke-width="1.5"/>
<circle cx="934.4" cy="910" r="7.5" fill="#dc3530" stroke="#111" stroke-width="1.5"/>
<circle cx="80.4" cy="672" r="7.5" fill="#dc3530" stroke="#111" stroke-width="1.5"/>
<circle cx="113.2" cy="666" r="7.5" fill="#dc3530" stroke="#111" stroke-width="1.5"/>
<circle cx="146.1" cy="711.5" r="7.5" fill="#dc3530" stroke="#111" stroke-width="1.5"/>
<circle cx="178.9" cy="750" r="7.5" fill="#dc3530" stroke="#111" stroke-width="1.5"/>
<circle cx="211.8" cy="741.5" r="7.5" fill="#dc3530" stroke="#111" stroke-width="1.5"/>
<circle cx="244.6" cy="744.5" r="7.5" fill="#dc3530" stroke="#111" stroke-width="1.5"/>
<circle cx="277.5" cy="842" r="7.5" fill="#dc3530" stroke="#111" stroke-width="1.5"/>
<circle cx="310.3" cy="790" r="7.5" fill="#dc3530" stroke="#111" stroke-width="1.5"/>
<circle cx="343.2" cy="822.5" r="7.5" fill="#dc3530" stroke="#111" stroke-width="1.5"/>
<circle cx="376" cy="831" r="7.5" fill="#dc3530" stroke="#111" stroke-width="1.5"/>
<circle cx="408.9" cy="855.5" r="7.5" fill="#dc3530" stroke="#111" stroke-width="1.5"/>
<circle cx="441.7" cy="883" r="7.5" fill="#dc3530" stroke="#111" stroke-width="1.5"/>
<circle cx="474.6" cy="866" r="7.5" fill="#dc3530" stroke="#111" stroke-width="1.5"/>
<circle cx="507.4" cy="954" r="7.5" fill="#dc3530" stroke="#111" stroke-width="1.5"/>
<circle cx="540.2" cy="959" r="7.5" fill="#dc3530" stroke="#111" stroke-width="1.5"/>
<circle cx="573.1" cy="917" r="7.5" fill="#dc3530" stroke="#111" stroke-width="1.5"/>
<circle cx="605.9" cy="920.5" r="7.5" fill="#dc3530" stroke="#111" stroke-width="1.5"/>
<circle cx="638.8" cy="939.5" r="7.5" fill="#dc3530" stroke="#111" stroke-width="1.5"/>
<circle cx="671.6" cy="928" r="7.5" fill="#dc3530" stroke="#111" stroke-width="1.5"/>
<circle cx="704.5" cy="928" r="7.5" fill="#dc3530" stroke="#111" stroke-width="1.5"/>
<circle cx="737.3" cy="926" r="7.5" fill="#dc3530" stroke="#111" stroke-width="1.5"/>
<circle cx="770.2" cy="921.5" r="7.5" fill="#dc3530" stroke="#111" stroke-width="1.5"/>
<circle cx="803" cy="923" r="7.5" fill="#dc3530" stroke="#111" stroke-width="1.5"/>
<circle cx="835.9" cy="918" r="7.5" fill="#dc3530" stroke="#111" stroke-width="1.5"/>
<circle cx="868.7" cy="918" r="7.5" fill="#dc3530" stroke="#111" stroke-width="1.5"/>
<circle cx="901.5" cy="911" r="7.5" fill="#dc3530" stroke="#111" stroke-width="1.5"/>
<circle cx="934.4" cy="908" r="7.5" fill="#dc3530" stroke="#111" stroke-width="1.5"/>
<circle cx="80.4" cy="718" r="7.5" fill="#dc3530" stroke="#111" stroke-width="1.5"/>
<circle cx="113.2" cy="710" r="7.5" fill="#dc3530" stroke="#111" stroke-width="1.5"/>
<circle cx="146.1" cy="759" r="7.5" fill="#dc3530" stroke="#111" stroke-width="1.5"/>
<circle cx="178.9" cy="805" r="7.5" fill="#dc3530" stroke="#111" stroke-width="1.5"/>
<circle cx="211.8" cy="791" r="7.5" fill="#dc3530" stroke="#111" stroke-width="1.5"/>
<circle cx="244.6" cy="795" r="7.5" fill="#dc3530" stroke="#111" stroke-width="1.5"/>
<circle cx="277.5" cy="892" r="7.5" fill="#dc3530" stroke="#111" stroke-width="1.5"/>
<circle cx="310.3" cy="837" r="7.5" fill="#dc3530" stroke="#111" stroke-width="1.5"/>
<circle cx="343.2" cy="869" r="7.5" fill="#dc3530" stroke="#111" stroke-width="1.5"/>
<circle cx="376" cy="869" r="7.5" fill="#dc3530" stroke="#111" stroke-width="1.5"/>
<circle cx="408.9" cy="898" r="7.5" fill="#dc3530" stroke="#111" stroke-width="1.5"/>
<circle cx="441.7" cy="919" r="7.5" fill="#dc3530" stroke="#111" stroke-width="1.5"/>
<circle cx="474.6" cy="890" r="7.5" fill="#dc3530" stroke="#111" stroke-width="1.5"/>
<circle cx="507.4" cy="978" r="7.5" fill="#dc3530" stroke="#111" stroke-width="1.5"/>
<circle cx="540.2" cy="982" r="7.5" fill="#dc3530" stroke="#111" stroke-width="1.5"/>
<circle cx="573.1" cy="944" r="7.5" fill="#dc3530" stroke="#111" stroke-width="1.5"/>
<circle cx="605.9" cy="942" r="7.5" fill="#dc3530" stroke="#111" stroke-width="1.5"/>
<circle cx="638.8" cy="953" r="7.5" fill="#dc3530" stroke="#111" stroke-width="1.5"/>
<circle cx="671.6" cy="940" r="7.5" fill="#dc3530" stroke="#111" stroke-width="1.5"/>
<circle cx="704.5" cy="942" r="7.5" fill="#dc3530" stroke="#111" stroke-width="1.5"/>
<circle cx="737.3" cy="935" r="7.5" fill="#dc3530" stroke="#111" stroke-width="1.5"/>
<circle cx="770.2" cy="925" r="7.5" fill="#dc3530" stroke="#111" stroke-width="1.5"/>
<circle cx="803" cy="925" r="7.5" fill="#dc3530" stroke="#111" stroke-width="1.5"/>
<circle cx="835.9" cy="918" r="7.5" fill="#dc3530" stroke="#111" stroke-width="1.5"/>
<circle cx="868.7" cy="918" r="7.5" fill="#dc3530" stroke="#111" stroke-width="1.5"/>
<circle cx="901.5" cy="911" r="7.5" fill="#dc3530" stroke="#111" stroke-width="1.5"/>
<circle cx="934.4" cy="910" r="7.5" fill="#dc3530" stroke="#111" stroke-width="1.5"/>
<circle cx="80.4" cy="876" r="7.5" fill="#dc3530" stroke="#111" stroke-width="1.5"/>
<circle cx="113.2" cy="876" r="7.5" fill="#dc3530" stroke="#111" stroke-width="1.5"/>
<circle cx="146.1" cy="927" r="7.5" fill="#dc3530" stroke="#111" stroke-width="1.5"/>
<circle cx="178.9" cy="952" r="7.5" fill="#dc3530" stroke="#111" stroke-width="1.5"/>
<circle cx="211.8" cy="955" r="7.5" fill="#dc3530" stroke="#111" stroke-width="1.5"/>
<circle cx="244.6" cy="952" r="7.5" fill="#dc3530" stroke="#111" stroke-width="1.5"/>
<circle cx="277.5" cy="1005" r="7.5" fill="#dc3530" stroke="#111" stroke-width="1.5"/>
<circle cx="310.3" cy="987" r="7.5" fill="#dc3530" stroke="#111" stroke-width="1.5"/>
<circle cx="343.2" cy="1003" r="7.5" fill="#dc3530" stroke="#111" stroke-width="1.5"/>
<circle cx="376" cy="974" r="7.5" fill="#dc3530" stroke="#111" stroke-width="1.5"/>
<circle cx="408.9" cy="1017" r="7.5" fill="#dc3530" stroke="#111" stroke-width="1.5"/>
<circle cx="441.7" cy="1017" r="7.5" fill="#dc3530" stroke="#111" stroke-width="1.5"/>
<circle cx="474.6" cy="976" r="7.5" fill="#dc3530" stroke="#111" stroke-width="1.5"/>
<circle cx="507.4" cy="1023" r="7.5" fill="#dc3530" stroke="#111" stroke-width="1.5"/>
<circle cx="540.2" cy="1012" r="7.5" fill="#dc3530" stroke="#111" stroke-width="1.5"/>
<circle cx="573.1" cy="989" r="7.5" fill="#dc3530" stroke="#111" stroke-width="1.5"/>
<circle cx="605.9" cy="976" r="7.5" fill="#dc3530" stroke="#111" stroke-width="1.5"/>
<circle cx="638.8" cy="973" r="7.5" fill="#dc3530" stroke="#111" stroke-width="1.5"/>
<circle cx="671.6" cy="960" r="7.5" fill="#dc3530" stroke="#111" stroke-width="1.5"/>
<circle cx="704.5" cy="943" r="7.5" fill="#dc3530" stroke="#111" stroke-width="1.5"/>
<circle cx="737.3" cy="931" r="7.5" fill="#dc3530" stroke="#111" stroke-width="1.5"/>
<circle cx="770.2" cy="921" r="7.5" fill="#dc3530" stroke="#111" stroke-width="1.5"/>
<circle cx="803" cy="926" r="7.5" fill="#dc3530" stroke="#111" stroke-width="1.5"/>
<circle cx="835.9" cy="917" r="7.5" fill="#dc3530" stroke="#111" stroke-width="1.5"/>
<circle cx="868.7" cy="920" r="7.5" fill="#dc3530" stroke="#111" stroke-width="1.5"/>
<circle cx="901.5" cy="913" r="7.5" fill="#dc3530" stroke="#111" stroke-width="1.5"/>
<circle cx="934.4" cy="913" r="7.5" fill="#dc3530" stroke="#111" stroke-width="1.5"/>
<circle cx="80.4" cy="892" r="7.5" fill="#dc3530" stroke="#111" stroke-width="1.5"/>
<circle cx="113.2" cy="886" r="7.5" fill="#dc3530" stroke="#111" stroke-width="1.5"/>
<circle cx="146.1" cy="927" r="7.5" fill="#dc3530" stroke="#111" stroke-width="1.5"/>
<circle cx="178.9" cy="962" r="7.5" fill="#dc3530" stroke="#111" stroke-width="1.5"/>
<circle cx="211.8" cy="959" r="7.5" fill="#dc3530" stroke="#111" stroke-width="1.5"/>
<circle cx="244.6" cy="957" r="7.5" fill="#dc3530" stroke="#111" stroke-width="1.5"/>
<circle cx="277.5" cy="1015" r="7.5" fill="#dc3530" stroke="#111" stroke-width="1.5"/>
<circle cx="310.3" cy="988" r="7.5" fill="#dc3530" stroke="#111" stroke-width="1.5"/>
<circle cx="343.2" cy="1009" r="7.5" fill="#dc3530" stroke="#111" stroke-width="1.5"/>
<circle cx="376" cy="997" r="7.5" fill="#dc3530" stroke="#111" stroke-width="1.5"/>
<circle cx="408.9" cy="1017" r="7.5" fill="#dc3530" stroke="#111" stroke-width="1.5"/>
<circle cx="441.7" cy="1017" r="7.5" fill="#dc3530" stroke="#111" stroke-width="1.5"/>
<circle cx="474.6" cy="980" r="7.5" fill="#dc3530" stroke="#111" stroke-width="1.5"/>
<circle cx="507.4" cy="1025" r="7.5" fill="#dc3530" stroke="#111" stroke-width="1.5"/>
<circle cx="540.2" cy="1016" r="7.5" fill="#dc3530" stroke="#111" stroke-width="1.5"/>
<circle cx="573.1" cy="991" r="7.5" fill="#dc3530" stroke="#111" stroke-width="1.5"/>
<circle cx="605.9" cy="978" r="7.5" fill="#dc3530" stroke="#111" stroke-width="1.5"/>
<circle cx="638.8" cy="975" r="7.5" fill="#dc3530" stroke="#111" stroke-width="1.5"/>
<circle cx="671.6" cy="962" r="7.5" fill="#dc3530" stroke="#111" stroke-width="1.5"/>
<circle cx="704.5" cy="945" r="7.5" fill="#dc3530" stroke="#111" stroke-width="1.5"/>
<circle cx="737.3" cy="933" r="7.5" fill="#dc3530" stroke="#111" stroke-width="1.5"/>
<circle cx="770.2" cy="922" r="7.5" fill="#dc3530" stroke="#111" stroke-width="1.5"/>
<circle cx="803" cy="926" r="7.5" fill="#dc3530" stroke="#111" stroke-width="1.5"/>
<circle cx="835.9" cy="919" r="7.5" fill="#dc3530" stroke="#111" stroke-width="1.5"/>
<circle cx="868.7" cy="921" r="7.5" fill="#dc3530" stroke="#111" stroke-width="1.5"/>
<circle cx="901.5" cy="914" r="7.5" fill="#dc3530" stroke="#111" stroke-width="1.5"/>
<circle cx="934.4" cy="915" r="7.5" fill="#dc3530" stroke="#111" stroke-width="1.5"/>
<path d="M113.3,663.6 L206.4,599.7 M309.3,676.1 L366.4,728.7 M633.1,878.7 L652.9,898.8 M789.3,886.5 L791.5,938.8" stroke="#111" stroke-width="1.8"/>
<text x="139" y="587.5" font-size="19" text-anchor="start" fill="#d0392f" font-weight="normal" >Low-Ti Manihiki</text>
<text x="239.7" y="665" font-size="19" text-anchor="start" fill="#68b75a" font-weight="normal" >Tonga boninites</text>
<text x="555.7" y="869.7" font-size="19" text-anchor="start" fill="#000" font-weight="normal" >OJP Kroenke</text>
<text x="736.5" y="876" font-size="19" text-anchor="start" fill="#2f4aa0" font-weight="normal" >Troodos boninites</text>
<rect x="80.4" y="512" width="854" height="520.7" fill="none" stroke="#000" stroke-width="2"/>
<path d="M73.4,1032.7 H80.4" stroke="#000" stroke-width="1.8"/>
<path d="M75.9,980.5 H80.4" stroke="#000" stroke-width="1.8"/>
<path d="M75.9,949.9 H80.4" stroke="#000" stroke-width="1.8"/>
<path d="M75.9,928.2 H80.4" stroke="#000" stroke-width="1.8"/>
<path d="M75.9,911.4 H80.4" stroke="#000" stroke-width="1.8"/>
<path d="M75.9,897.6 H80.4" stroke="#000" stroke-width="1.8"/>
<path d="M75.9,886 H80.4" stroke="#000" stroke-width="1.8"/>
<path d="M75.9,876 H80.4" stroke="#000" stroke-width="1.8"/>
<path d="M75.9,867.1 H80.4" stroke="#000" stroke-width="1.8"/>
<path d="M73.4,859.1 H80.4" stroke="#000" stroke-width="1.8"/>
<path d="M75.9,806.9 H80.4" stroke="#000" stroke-width="1.8"/>
<path d="M75.9,776.3 H80.4" stroke="#000" stroke-width="1.8"/>
<path d="M75.9,754.6 H80.4" stroke="#000" stroke-width="1.8"/>
<path d="M75.9,737.8 H80.4" stroke="#000" stroke-width="1.8"/>
<path d="M75.9,724.1 H80.4" stroke="#000" stroke-width="1.8"/>
<path d="M75.9,712.5 H80.4" stroke="#000" stroke-width="1.8"/>
<path d="M75.9,702.4 H80.4" stroke="#000" stroke-width="1.8"/>
<path d="M75.9,693.5 H80.4" stroke="#000" stroke-width="1.8"/>
<path d="M73.4,685.6 H80.4" stroke="#000" stroke-width="1.8"/>
<path d="M75.9,633.3 H80.4" stroke="#000" stroke-width="1.8"/>
<path d="M75.9,602.8 H80.4" stroke="#000" stroke-width="1.8"/>
<path d="M75.9,581.1 H80.4" stroke="#000" stroke-width="1.8"/>
<path d="M75.9,564.2 H80.4" stroke="#000" stroke-width="1.8"/>
<path d="M75.9,550.5 H80.4" stroke="#000" stroke-width="1.8"/>
<path d="M75.9,538.9 H80.4" stroke="#000" stroke-width="1.8"/>
<path d="M75.9,528.8 H80.4" stroke="#000" stroke-width="1.8"/>
<path d="M75.9,519.9 H80.4" stroke="#000" stroke-width="1.8"/>
<path d="M73.4,512 H80.4" stroke="#000" stroke-width="1.8"/>
<text x="63.5" y="516.8" font-size="19" text-anchor="end" fill="#000" font-weight="normal" >100</text>
<text x="63.5" y="691.4" font-size="19" text-anchor="end" fill="#000" font-weight="normal" >10</text>
<text x="63.5" y="864.9" font-size="19" text-anchor="end" fill="#000" font-weight="normal" >1</text>
<text x="63.5" y="1038.5" font-size="19" text-anchor="end" fill="#000" font-weight="normal" >0.1</text>
<path d="M80.4,1032.7 V1039.7" stroke="#000" stroke-width="1.8"/>
<text transform="translate(86.7,1052) rotate(-90)" font-size="19" text-anchor="end">Rb</text>
<path d="M113.2,1032.7 V1039.7" stroke="#000" stroke-width="1.8"/>
<text transform="translate(119.5,1052) rotate(-90)" font-size="19" text-anchor="end">Ba</text>
<path d="M146.1,1032.7 V1039.7" stroke="#000" stroke-width="1.8"/>
<text transform="translate(152.4,1052) rotate(-90)" font-size="19" text-anchor="end">Th</text>
<path d="M178.9,1032.7 V1039.7" stroke="#000" stroke-width="1.8"/>
<text transform="translate(185.2,1052) rotate(-90)" font-size="19" text-anchor="end">U</text>
<path d="M211.8,1032.7 V1039.7" stroke="#000" stroke-width="1.8"/>
<text transform="translate(218.1,1052) rotate(-90)" font-size="19" text-anchor="end">Nb</text>
<path d="M244.6,1032.7 V1039.7" stroke="#000" stroke-width="1.8"/>
<text transform="translate(250.9,1052) rotate(-90)" font-size="19" text-anchor="end">Ta</text>
<path d="M277.5,1032.7 V1039.7" stroke="#000" stroke-width="1.8"/>
<text transform="translate(283.8,1052) rotate(-90)" font-size="19" text-anchor="end">K</text>
<path d="M310.3,1032.7 V1039.7" stroke="#000" stroke-width="1.8"/>
<text transform="translate(316.6,1052) rotate(-90)" font-size="19" text-anchor="end">La</text>
<path d="M343.2,1032.7 V1039.7" stroke="#000" stroke-width="1.8"/>
<text transform="translate(349.5,1052) rotate(-90)" font-size="19" text-anchor="end">Ce</text>
<path d="M376,1032.7 V1039.7" stroke="#000" stroke-width="1.8"/>
<text transform="translate(382.3,1052) rotate(-90)" font-size="19" text-anchor="end">Pb</text>
<path d="M408.9,1032.7 V1039.7" stroke="#000" stroke-width="1.8"/>
<text transform="translate(415.2,1052) rotate(-90)" font-size="19" text-anchor="end">Pr</text>
<path d="M441.7,1032.7 V1039.7" stroke="#000" stroke-width="1.8"/>
<text transform="translate(448,1052) rotate(-90)" font-size="19" text-anchor="end">Nd</text>
<path d="M474.6,1032.7 V1039.7" stroke="#000" stroke-width="1.8"/>
<text transform="translate(480.9,1052) rotate(-90)" font-size="19" text-anchor="end">Sr</text>
<path d="M507.4,1032.7 V1039.7" stroke="#000" stroke-width="1.8"/>
<text transform="translate(513.7,1052) rotate(-90)" font-size="19" text-anchor="end">Zr</text>
<path d="M540.2,1032.7 V1039.7" stroke="#000" stroke-width="1.8"/>
<text transform="translate(546.5,1052) rotate(-90)" font-size="19" text-anchor="end">Hf</text>
<path d="M573.1,1032.7 V1039.7" stroke="#000" stroke-width="1.8"/>
<text transform="translate(579.4,1052) rotate(-90)" font-size="19" text-anchor="end">Sm</text>
<path d="M605.9,1032.7 V1039.7" stroke="#000" stroke-width="1.8"/>
<text transform="translate(612.2,1052) rotate(-90)" font-size="19" text-anchor="end">Eu</text>
<path d="M638.8,1032.7 V1039.7" stroke="#000" stroke-width="1.8"/>
<text transform="translate(645.1,1052) rotate(-90)" font-size="19" text-anchor="end">Ti</text>
<path d="M671.6,1032.7 V1039.7" stroke="#000" stroke-width="1.8"/>
<text transform="translate(677.9,1052) rotate(-90)" font-size="19" text-anchor="end">Gd</text>
<path d="M704.5,1032.7 V1039.7" stroke="#000" stroke-width="1.8"/>
<text transform="translate(710.8,1052) rotate(-90)" font-size="19" text-anchor="end">Tb</text>
<path d="M737.3,1032.7 V1039.7" stroke="#000" stroke-width="1.8"/>
<text transform="translate(743.6,1052) rotate(-90)" font-size="19" text-anchor="end">Dy</text>
<path d="M770.2,1032.7 V1039.7" stroke="#000" stroke-width="1.8"/>
<text transform="translate(776.5,1052) rotate(-90)" font-size="19" text-anchor="end">Y</text>
<path d="M803,1032.7 V1039.7" stroke="#000" stroke-width="1.8"/>
<text transform="translate(809.3,1052) rotate(-90)" font-size="19" text-anchor="end">Ho</text>
<path d="M835.9,1032.7 V1039.7" stroke="#000" stroke-width="1.8"/>
<text transform="translate(842.2,1052) rotate(-90)" font-size="19" text-anchor="end">Er</text>
<path d="M868.7,1032.7 V1039.7" stroke="#000" stroke-width="1.8"/>
<text transform="translate(875,1052) rotate(-90)" font-size="19" text-anchor="end">Tm</text>
<path d="M901.5,1032.7 V1039.7" stroke="#000" stroke-width="1.8"/>
<text transform="translate(907.8,1052) rotate(-90)" font-size="19" text-anchor="end">Yb</text>
<path d="M934.4,1032.7 V1039.7" stroke="#000" stroke-width="1.8"/>
<text transform="translate(940.7,1052) rotate(-90)" font-size="19" text-anchor="end">Lu</text>
<text transform="translate(16.3,771.7) rotate(-90)" font-size="19" text-anchor="middle">Sample/N-MORB</text>
<text x="94.2" y="544.3" font-size="27" text-anchor="start" fill="#000" font-weight="bold" >c</text>
<rect x="400" y="513.2" width="532" height="323" fill="#fff"/>
<path d="M489.1,665.8 L522.1,667 L555,663.5 L588,658.8 L620.9,655.3 L653.9,651.9 L686.9,650.7 L719.8,652.6 L752.8,648.3 L785.7,650 L818.7,650.8 L851.7,652.6 L884.6,654.4 L917.6,649.3 L917.6,657.7 L884.6,661.5 L851.7,659 L818.7,657.7 L785.7,659 L752.8,661.5 L719.8,660.2 L686.9,662.7 L653.9,660 L620.9,664.7 L588,665.8 L555,670.5 L522.1,674 L489.1,675.1Z" fill="#f1e965" stroke="#111" stroke-width="1.5" stroke-linejoin="round"/>
<path d="M489.1,669.7 L522.1,685 L555,693.4 L588,700.2 L620.9,713.7 L653.9,708.8 L686.9,720.5 L719.8,723.6 L752.8,723 L785.7,726.2 L818.7,719.8 L851.7,721 L884.6,719 L917.6,711" fill="none" stroke="#6cbb5a" stroke-width="1.6" stroke-linejoin="round" />
<path d="M489.1,671 L522.1,686.7 L555,695 L588,701.5 L620.9,715 L653.9,716 L686.9,724 L719.8,727.4 L752.8,728 L785.7,730 L818.7,726 L851.7,725 L884.6,722 L917.6,717.3" fill="none" stroke="#6cbb5a" stroke-width="1.6" stroke-linejoin="round" />
<path d="M489.1,682.4 L522.1,696 L555,707.8 L588,716.3 L620.9,725.6 L653.9,733.3 L686.9,731 L719.8,733.8 L752.8,734 L785.7,735 L818.7,731 L851.7,729 L884.6,727 L917.6,723.6" fill="none" stroke="#6cbb5a" stroke-width="1.6" stroke-linejoin="round" />
<path d="M489.1,729.8 L522.1,746.7 L555,751.8 L588,743.3 L620.9,724.7 L653.9,698.4 L686.9,720.5 L719.8,705 L752.8,695 L785.7,690 L818.7,686 L851.7,682 L884.6,679 L917.6,676.7" fill="none" stroke="#2b3f98" stroke-width="1.6" stroke-linejoin="round" />
<path d="M489.1,738 L522.1,755.2 L555,760.2 L588,760 L620.9,734.4 L653.9,713.5 L686.9,708.8 L719.8,700.8 L752.8,692 L785.7,688 L818.7,686 L851.7,685 L884.6,684 L917.6,683" fill="none" stroke="#2b3f98" stroke-width="1.6" stroke-linejoin="round" />
<path d="M489.1,751.8 L522.1,756 L555,757 L588,761.9 L620.9,738.2 L653.9,718 L686.9,712 L719.8,705 L752.8,698 L785.7,694 L818.7,691 L851.7,689 L884.6,688 L917.6,686.8" fill="none" stroke="#2b3f98" stroke-width="1.6" stroke-linejoin="round" />
<path d="M489.1,760.2 L522.1,760 L555,763.6 L588,764.5 L620.9,740 L653.9,722 L686.9,716 L719.8,708.4 L752.8,703 L785.7,702 L818.7,701 L851.7,700 L884.6,699 L917.6,698.3" fill="none" stroke="#2b3f98" stroke-width="1.6" stroke-linejoin="round" />
<path d="M489.1,732 L522.1,750 L555,758 L588,755 L620.9,730 L653.9,716 L686.9,712 L719.8,703 L752.8,697 L785.7,692 L818.7,689 L851.7,687 L884.6,685 L917.6,684" fill="none" stroke="#2b3f98" stroke-width="1.6" stroke-linejoin="round" />
<path d="M489.1,599.5 L522.1,619.3 L555,636.7 L588,648.4 L620.9,671.6 L653.9,674 L686.9,676.3 L719.8,676.7 L752.8,673.4 L785.7,673.4 L818.7,669.1 L851.7,669.1 L884.6,661.5 L917.6,661.5" fill="none" stroke="#000" stroke-width="2.3" stroke-linejoin="round" />
<path d="M489.1,604.2 L522.1,620.5 L555,638 L588,650 L620.9,673 L653.9,675 L686.9,679 L719.8,684.3 L752.8,681.8 L785.7,677.2 L818.7,672 L851.7,672 L884.6,664 L917.6,664" fill="none" stroke="#000" stroke-width="2.3" stroke-linejoin="round" />
<path d="M489.1,602 L522.1,620 L555,637.5 L588,649.5 L620.9,672.5 L653.9,674.5 L686.9,678 L719.8,681 L752.8,678 L785.7,675 L818.7,671 L851.7,671 L884.6,663 L917.6,663" fill="none" stroke="#000" stroke-width="2.3" stroke-linejoin="round" />
<path d="M489.1,639.3 L522.1,656.2 L555,672 L588,681.6 L620.9,696 L653.9,692.1 L686.9,689.1 L719.8,691.4 L752.8,681.8 L785.7,677.2 L818.7,671 L851.7,671 L884.6,664 L917.6,665" fill="none" stroke="#000" stroke-width="2.3" stroke-linejoin="round" />
<path d="M489.1,761.9 L522.1,765.3 L555,766.7 L588,758.9 L620.9,731.5 L653.9,719.5 L686.9,705.3 L719.8,691.4 L752.8,681.8 L785.7,677.2 L818.7,671 L851.7,671 L884.6,664 L917.6,665" fill="none" stroke="#000" stroke-width="2.3" stroke-linejoin="round" />
<path d="M489.1,763.6 L522.1,769.5 L555,766.7 L588,758.9 L620.9,731.5 L653.9,719.5 L686.9,705.3 L719.8,690 L752.8,680.5 L785.7,676 L818.7,672 L851.7,677 L884.6,667 L917.6,670.7" fill="none" stroke="#000" stroke-width="2.3" stroke-linejoin="round" />
<path d="M489.1,653.7 L494.6,664.2 L483.6,664.2 Z" fill="#a5a5a6" stroke="#111" stroke-width="1.0" stroke-linejoin="miter"/>
<path d="M489.1,657.1 L494.6,667.6 L483.6,667.6 Z" fill="#a5a5a6" stroke="#111" stroke-width="1.0" stroke-linejoin="miter"/>
<path d="M489.1,659.6 L494.6,670.1 L483.6,670.1 Z" fill="#a5a5a6" stroke="#111" stroke-width="1.0" stroke-linejoin="miter"/>
<path d="M489.1,666.4 L494.6,676.9 L483.6,676.9 Z" fill="#a5a5a6" stroke="#111" stroke-width="1.0" stroke-linejoin="miter"/>
<path d="M489.1,668.9 L494.6,679.4 L483.6,679.4 Z" fill="#a5a5a6" stroke="#111" stroke-width="1.0" stroke-linejoin="miter"/>
<path d="M522.1,657.1 L527.6,667.6 L516.6,667.6 Z" fill="#a5a5a6" stroke="#111" stroke-width="1.0" stroke-linejoin="miter"/>
<path d="M522.1,663 L527.6,673.5 L516.6,673.5 Z" fill="#a5a5a6" stroke="#111" stroke-width="1.0" stroke-linejoin="miter"/>
<path d="M522.1,666.4 L527.6,676.9 L516.6,676.9 Z" fill="#a5a5a6" stroke="#111" stroke-width="1.0" stroke-linejoin="miter"/>
<path d="M588,650.3 L593.5,660.8 L582.5,660.8 Z" fill="#a5a5a6" stroke="#111" stroke-width="1.0" stroke-linejoin="miter"/>
<path d="M588,655.4 L593.5,665.9 L582.5,665.9 Z" fill="#a5a5a6" stroke="#111" stroke-width="1.0" stroke-linejoin="miter"/>
<path d="M588,659.6 L593.5,670.1 L582.5,670.1 Z" fill="#a5a5a6" stroke="#111" stroke-width="1.0" stroke-linejoin="miter"/>
<path d="M588,663.8 L593.5,674.3 L582.5,674.3 Z" fill="#a5a5a6" stroke="#111" stroke-width="1.0" stroke-linejoin="miter"/>
<path d="M620.9,640.1 L626.4,650.6 L615.4,650.6 Z" fill="#a5a5a6" stroke="#111" stroke-width="1.0" stroke-linejoin="miter"/>
<path d="M620.9,645.2 L626.4,655.7 L615.4,655.7 Z" fill="#a5a5a6" stroke="#111" stroke-width="1.0" stroke-linejoin="miter"/>
<path d="M620.9,660.4 L626.4,670.9 L615.4,670.9 Z" fill="#a5a5a6" stroke="#111" stroke-width="1.0" stroke-linejoin="miter"/>
<path d="M620.9,663.8 L626.4,674.3 L615.4,674.3 Z" fill="#a5a5a6" stroke="#111" stroke-width="1.0" stroke-linejoin="miter"/>
<path d="M620.9,667.2 L626.4,677.7 L615.4,677.7 Z" fill="#a5a5a6" stroke="#111" stroke-width="1.0" stroke-linejoin="miter"/>
<path d="M884.6,663 L890.1,673.5 L879.1,673.5 Z" fill="#a5a5a6" stroke="#111" stroke-width="1.0" stroke-linejoin="miter"/>
<circle cx="489.1" cy="599.5" r="5.3" fill="#dc3530" stroke="#111" stroke-width="1.1"/>
<circle cx="522.1" cy="619.3" r="5.3" fill="#dc3530" stroke="#111" stroke-width="1.1"/>
<circle cx="555" cy="636.7" r="5.3" fill="#dc3530" stroke="#111" stroke-width="1.1"/>
<circle cx="588" cy="648.4" r="5.3" fill="#dc3530" stroke="#111" stroke-width="1.1"/>
<circle cx="620.9" cy="671.6" r="5.3" fill="#dc3530" stroke="#111" stroke-width="1.1"/>
<circle cx="653.9" cy="674" r="5.3" fill="#dc3530" stroke="#111" stroke-width="1.1"/>
<circle cx="686.9" cy="676.3" r="5.3" fill="#dc3530" stroke="#111" stroke-width="1.1"/>
<circle cx="719.8" cy="676.7" r="5.3" fill="#dc3530" stroke="#111" stroke-width="1.1"/>
<circle cx="752.8" cy="673.4" r="5.3" fill="#dc3530" stroke="#111" stroke-width="1.1"/>
<circle cx="785.7" cy="673.4" r="5.3" fill="#dc3530" stroke="#111" stroke-width="1.1"/>
<circle cx="818.7" cy="669.1" r="5.3" fill="#dc3530" stroke="#111" stroke-width="1.1"/>
<circle cx="851.7" cy="669.1" r="5.3" fill="#dc3530" stroke="#111" stroke-width="1.1"/>
<circle cx="884.6" cy="661.5" r="5.3" fill="#dc3530" stroke="#111" stroke-width="1.1"/>
<circle cx="917.6" cy="661.5" r="5.3" fill="#dc3530" stroke="#111" stroke-width="1.1"/>
<circle cx="489.1" cy="604.2" r="5.3" fill="#dc3530" stroke="#111" stroke-width="1.1"/>
<circle cx="522.1" cy="620.5" r="5.3" fill="#dc3530" stroke="#111" stroke-width="1.1"/>
<circle cx="555" cy="638" r="5.3" fill="#dc3530" stroke="#111" stroke-width="1.1"/>
<circle cx="588" cy="650" r="5.3" fill="#dc3530" stroke="#111" stroke-width="1.1"/>
<circle cx="620.9" cy="673" r="5.3" fill="#dc3530" stroke="#111" stroke-width="1.1"/>
<circle cx="653.9" cy="675" r="5.3" fill="#dc3530" stroke="#111" stroke-width="1.1"/>
<circle cx="686.9" cy="679" r="5.3" fill="#dc3530" stroke="#111" stroke-width="1.1"/>
<circle cx="719.8" cy="684.3" r="5.3" fill="#dc3530" stroke="#111" stroke-width="1.1"/>
<circle cx="752.8" cy="681.8" r="5.3" fill="#dc3530" stroke="#111" stroke-width="1.1"/>
<circle cx="785.7" cy="677.2" r="5.3" fill="#dc3530" stroke="#111" stroke-width="1.1"/>
<circle cx="818.7" cy="672" r="5.3" fill="#dc3530" stroke="#111" stroke-width="1.1"/>
<circle cx="851.7" cy="672" r="5.3" fill="#dc3530" stroke="#111" stroke-width="1.1"/>
<circle cx="884.6" cy="664" r="5.3" fill="#dc3530" stroke="#111" stroke-width="1.1"/>
<circle cx="917.6" cy="664" r="5.3" fill="#dc3530" stroke="#111" stroke-width="1.1"/>
<circle cx="489.1" cy="602" r="5.3" fill="#dc3530" stroke="#111" stroke-width="1.1"/>
<circle cx="522.1" cy="620" r="5.3" fill="#dc3530" stroke="#111" stroke-width="1.1"/>
<circle cx="555" cy="637.5" r="5.3" fill="#dc3530" stroke="#111" stroke-width="1.1"/>
<circle cx="588" cy="649.5" r="5.3" fill="#dc3530" stroke="#111" stroke-width="1.1"/>
<circle cx="620.9" cy="672.5" r="5.3" fill="#dc3530" stroke="#111" stroke-width="1.1"/>
<circle cx="653.9" cy="674.5" r="5.3" fill="#dc3530" stroke="#111" stroke-width="1.1"/>
<circle cx="686.9" cy="678" r="5.3" fill="#dc3530" stroke="#111" stroke-width="1.1"/>
<circle cx="719.8" cy="681" r="5.3" fill="#dc3530" stroke="#111" stroke-width="1.1"/>
<circle cx="752.8" cy="678" r="5.3" fill="#dc3530" stroke="#111" stroke-width="1.1"/>
<circle cx="785.7" cy="675" r="5.3" fill="#dc3530" stroke="#111" stroke-width="1.1"/>
<circle cx="818.7" cy="671" r="5.3" fill="#dc3530" stroke="#111" stroke-width="1.1"/>
<circle cx="851.7" cy="671" r="5.3" fill="#dc3530" stroke="#111" stroke-width="1.1"/>
<circle cx="884.6" cy="663" r="5.3" fill="#dc3530" stroke="#111" stroke-width="1.1"/>
<circle cx="917.6" cy="663" r="5.3" fill="#dc3530" stroke="#111" stroke-width="1.1"/>
<circle cx="489.1" cy="639.3" r="5.3" fill="#dc3530" stroke="#111" stroke-width="1.1"/>
<circle cx="522.1" cy="656.2" r="5.3" fill="#dc3530" stroke="#111" stroke-width="1.1"/>
<circle cx="555" cy="672" r="5.3" fill="#dc3530" stroke="#111" stroke-width="1.1"/>
<circle cx="588" cy="681.6" r="5.3" fill="#dc3530" stroke="#111" stroke-width="1.1"/>
<circle cx="620.9" cy="696" r="5.3" fill="#dc3530" stroke="#111" stroke-width="1.1"/>
<circle cx="653.9" cy="692.1" r="5.3" fill="#dc3530" stroke="#111" stroke-width="1.1"/>
<circle cx="686.9" cy="689.1" r="5.3" fill="#dc3530" stroke="#111" stroke-width="1.1"/>
<circle cx="719.8" cy="691.4" r="5.3" fill="#dc3530" stroke="#111" stroke-width="1.1"/>
<circle cx="752.8" cy="681.8" r="5.3" fill="#dc3530" stroke="#111" stroke-width="1.1"/>
<circle cx="785.7" cy="677.2" r="5.3" fill="#dc3530" stroke="#111" stroke-width="1.1"/>
<circle cx="818.7" cy="671" r="5.3" fill="#dc3530" stroke="#111" stroke-width="1.1"/>
<circle cx="851.7" cy="671" r="5.3" fill="#dc3530" stroke="#111" stroke-width="1.1"/>
<circle cx="884.6" cy="664" r="5.3" fill="#dc3530" stroke="#111" stroke-width="1.1"/>
<circle cx="917.6" cy="665" r="5.3" fill="#dc3530" stroke="#111" stroke-width="1.1"/>
<circle cx="489.1" cy="761.9" r="5.3" fill="#dc3530" stroke="#111" stroke-width="1.1"/>
<circle cx="522.1" cy="765.3" r="5.3" fill="#dc3530" stroke="#111" stroke-width="1.1"/>
<circle cx="555" cy="766.7" r="5.3" fill="#dc3530" stroke="#111" stroke-width="1.1"/>
<circle cx="588" cy="758.9" r="5.3" fill="#dc3530" stroke="#111" stroke-width="1.1"/>
<circle cx="620.9" cy="731.5" r="5.3" fill="#dc3530" stroke="#111" stroke-width="1.1"/>
<circle cx="653.9" cy="719.5" r="5.3" fill="#dc3530" stroke="#111" stroke-width="1.1"/>
<circle cx="686.9" cy="705.3" r="5.3" fill="#dc3530" stroke="#111" stroke-width="1.1"/>
<circle cx="719.8" cy="691.4" r="5.3" fill="#dc3530" stroke="#111" stroke-width="1.1"/>
<circle cx="752.8" cy="681.8" r="5.3" fill="#dc3530" stroke="#111" stroke-width="1.1"/>
<circle cx="785.7" cy="677.2" r="5.3" fill="#dc3530" stroke="#111" stroke-width="1.1"/>
<circle cx="818.7" cy="671" r="5.3" fill="#dc3530" stroke="#111" stroke-width="1.1"/>
<circle cx="851.7" cy="671" r="5.3" fill="#dc3530" stroke="#111" stroke-width="1.1"/>
<circle cx="884.6" cy="664" r="5.3" fill="#dc3530" stroke="#111" stroke-width="1.1"/>
<circle cx="917.6" cy="665" r="5.3" fill="#dc3530" stroke="#111" stroke-width="1.1"/>
<circle cx="489.1" cy="763.6" r="5.3" fill="#dc3530" stroke="#111" stroke-width="1.1"/>
<circle cx="522.1" cy="769.5" r="5.3" fill="#dc3530" stroke="#111" stroke-width="1.1"/>
<circle cx="555" cy="766.7" r="5.3" fill="#dc3530" stroke="#111" stroke-width="1.1"/>
<circle cx="588" cy="758.9" r="5.3" fill="#dc3530" stroke="#111" stroke-width="1.1"/>
<circle cx="620.9" cy="731.5" r="5.3" fill="#dc3530" stroke="#111" stroke-width="1.1"/>
<circle cx="653.9" cy="719.5" r="5.3" fill="#dc3530" stroke="#111" stroke-width="1.1"/>
<circle cx="686.9" cy="705.3" r="5.3" fill="#dc3530" stroke="#111" stroke-width="1.1"/>
<circle cx="719.8" cy="690" r="5.3" fill="#dc3530" stroke="#111" stroke-width="1.1"/>
<circle cx="752.8" cy="680.5" r="5.3" fill="#dc3530" stroke="#111" stroke-width="1.1"/>
<circle cx="785.7" cy="676" r="5.3" fill="#dc3530" stroke="#111" stroke-width="1.1"/>
<circle cx="818.7" cy="672" r="5.3" fill="#dc3530" stroke="#111" stroke-width="1.1"/>
<circle cx="851.7" cy="677" r="5.3" fill="#dc3530" stroke="#111" stroke-width="1.1"/>
<circle cx="884.6" cy="667" r="5.3" fill="#dc3530" stroke="#111" stroke-width="1.1"/>
<circle cx="917.6" cy="670.7" r="5.3" fill="#dc3530" stroke="#111" stroke-width="1.1"/>
<rect x="879.6" y="669.5" width="10" height="6" fill="#222"/>
<path d="M489.1,707 L494.6,717.5 L483.6,717.5 Z" fill="#80c8d6" stroke="#111" stroke-width="1.0" stroke-linejoin="miter"/>
<path d="M489.1,729.8 L494.6,740.3 L483.6,740.3 Z" fill="#80c8d6" stroke="#111" stroke-width="1.0" stroke-linejoin="miter"/>
<path d="M489.1,734 L494.6,744.5 L483.6,744.5 Z" fill="#80c8d6" stroke="#111" stroke-width="1.0" stroke-linejoin="miter"/>
<path d="M489.1,738.2 L494.6,748.7 L483.6,748.7 Z" fill="#80c8d6" stroke="#111" stroke-width="1.0" stroke-linejoin="miter"/>
<path d="M489.1,768.7 L494.6,779.2 L483.6,779.2 Z" fill="#80c8d6" stroke="#111" stroke-width="1.0" stroke-linejoin="miter"/>
<path d="M522.1,707 L527.6,717.5 L516.6,717.5 Z" fill="#80c8d6" stroke="#111" stroke-width="1.0" stroke-linejoin="miter"/>
<path d="M522.1,722.2 L527.6,732.7 L516.6,732.7 Z" fill="#80c8d6" stroke="#111" stroke-width="1.0" stroke-linejoin="miter"/>
<path d="M522.1,731.5 L527.6,742 L516.6,742 Z" fill="#80c8d6" stroke="#111" stroke-width="1.0" stroke-linejoin="miter"/>
<path d="M522.1,735.7 L527.6,746.2 L516.6,746.2 Z" fill="#80c8d6" stroke="#111" stroke-width="1.0" stroke-linejoin="miter"/>
<path d="M522.1,740 L527.6,750.5 L516.6,750.5 Z" fill="#80c8d6" stroke="#111" stroke-width="1.0" stroke-linejoin="miter"/>
<path d="M522.1,750.9 L527.6,761.4 L516.6,761.4 Z" fill="#80c8d6" stroke="#111" stroke-width="1.0" stroke-linejoin="miter"/>
<path d="M588,677.4 L593.5,687.9 L582.5,687.9 Z" fill="#80c8d6" stroke="#111" stroke-width="1.0" stroke-linejoin="miter"/>
<path d="M588,694.3 L593.5,704.8 L582.5,704.8 Z" fill="#80c8d6" stroke="#111" stroke-width="1.0" stroke-linejoin="miter"/>
<path d="M588,700.2 L593.5,710.7 L582.5,710.7 Z" fill="#80c8d6" stroke="#111" stroke-width="1.0" stroke-linejoin="miter"/>
<path d="M588,712.9 L593.5,723.4 L582.5,723.4 Z" fill="#80c8d6" stroke="#111" stroke-width="1.0" stroke-linejoin="miter"/>
<path d="M620.9,648.6 L626.4,659.1 L615.4,659.1 Z" fill="#80c8d6" stroke="#111" stroke-width="1.0" stroke-linejoin="miter"/>
<path d="M620.9,670.6 L626.4,681.1 L615.4,681.1 Z" fill="#80c8d6" stroke="#111" stroke-width="1.0" stroke-linejoin="miter"/>
<path d="M620.9,679 L626.4,689.5 L615.4,689.5 Z" fill="#80c8d6" stroke="#111" stroke-width="1.0" stroke-linejoin="miter"/>
<path d="M620.9,684.1 L626.4,694.6 L615.4,694.6 Z" fill="#80c8d6" stroke="#111" stroke-width="1.0" stroke-linejoin="miter"/>
<path d="M620.9,687.5 L626.4,698 L615.4,698 Z" fill="#80c8d6" stroke="#111" stroke-width="1.0" stroke-linejoin="miter"/>
<path d="M884.6,605.7 L890.1,616.2 L879.1,616.2 Z" fill="#80c8d6" stroke="#111" stroke-width="1.0" stroke-linejoin="miter"/>
<path d="M884.6,656 L890.1,666.5 L879.1,666.5 Z" fill="#80c8d6" stroke="#111" stroke-width="1.0" stroke-linejoin="miter"/>
<rect x="489.1" y="520.3" width="428.5" height="281.6" fill="none" stroke="#000" stroke-width="2"/>
<path d="M483.1,801.9 H489.1" stroke="#000" stroke-width="1.6"/>
<path d="M485.1,759.5 H489.1" stroke="#000" stroke-width="1.6"/>
<path d="M485.1,734.7 H489.1" stroke="#000" stroke-width="1.6"/>
<path d="M485.1,717.1 H489.1" stroke="#000" stroke-width="1.6"/>
<path d="M485.1,703.5 H489.1" stroke="#000" stroke-width="1.6"/>
<path d="M485.1,692.3 H489.1" stroke="#000" stroke-width="1.6"/>
<path d="M485.1,682.9 H489.1" stroke="#000" stroke-width="1.6"/>
<path d="M485.1,674.7 H489.1" stroke="#000" stroke-width="1.6"/>
<path d="M485.1,667.5 H489.1" stroke="#000" stroke-width="1.6"/>
<path d="M483.1,661.1 H489.1" stroke="#000" stroke-width="1.6"/>
<path d="M485.1,618.7 H489.1" stroke="#000" stroke-width="1.6"/>
<path d="M485.1,593.9 H489.1" stroke="#000" stroke-width="1.6"/>
<path d="M485.1,576.3 H489.1" stroke="#000" stroke-width="1.6"/>
<path d="M485.1,562.7 H489.1" stroke="#000" stroke-width="1.6"/>
<path d="M485.1,551.5 H489.1" stroke="#000" stroke-width="1.6"/>
<path d="M485.1,542.1 H489.1" stroke="#000" stroke-width="1.6"/>
<path d="M485.1,533.9 H489.1" stroke="#000" stroke-width="1.6"/>
<path d="M485.1,526.7 H489.1" stroke="#000" stroke-width="1.6"/>
<path d="M483.1,520.3 H489.1" stroke="#000" stroke-width="1.6"/>
<text x="475.5" y="528.8" font-size="19" text-anchor="end" fill="#000" font-weight="normal" >100</text>
<text x="475.5" y="668.6" font-size="19" text-anchor="end" fill="#000" font-weight="normal" >10</text>
<text x="475.5" y="807.6" font-size="19" text-anchor="end" fill="#000" font-weight="normal" >1</text>
<path d="M489.1,801.9 V806.4" stroke="#000" stroke-width="1.6"/>
<text x="489.1" y="830.7" font-size="19" text-anchor="middle" fill="#000" font-weight="normal" >La</text>
<path d="M522.1,801.9 V806.4" stroke="#000" stroke-width="1.6"/>
<text x="522.1" y="830.7" font-size="19" text-anchor="middle" fill="#000" font-weight="normal" >Ce</text>
<path d="M555,801.9 V806.4" stroke="#000" stroke-width="1.6"/>
<text x="555" y="830.7" font-size="19" text-anchor="middle" fill="#000" font-weight="normal" >Pr</text>
<path d="M588,801.9 V806.4" stroke="#000" stroke-width="1.6"/>
<text x="588" y="830.7" font-size="19" text-anchor="middle" fill="#000" font-weight="normal" >Nd</text>
<path d="M620.9,801.9 V806.4" stroke="#000" stroke-width="1.6"/>
<text x="620.9" y="830.7" font-size="19" text-anchor="middle" fill="#000" font-weight="normal" >Sm</text>
<path d="M653.9,801.9 V806.4" stroke="#000" stroke-width="1.6"/>
<text x="653.9" y="830.7" font-size="19" text-anchor="middle" fill="#000" font-weight="normal" >Eu</text>
<path d="M686.9,801.9 V806.4" stroke="#000" stroke-width="1.6"/>
<text x="686.9" y="830.7" font-size="19" text-anchor="middle" fill="#000" font-weight="normal" >Gd</text>
<path d="M719.8,801.9 V806.4" stroke="#000" stroke-width="1.6"/>
<text x="719.8" y="830.7" font-size="19" text-anchor="middle" fill="#000" font-weight="normal" >Tb</text>
<path d="M752.8,801.9 V806.4" stroke="#000" stroke-width="1.6"/>
<text x="752.8" y="830.7" font-size="19" text-anchor="middle" fill="#000" font-weight="normal" >Dy</text>
<path d="M785.7,801.9 V806.4" stroke="#000" stroke-width="1.6"/>
<text x="785.7" y="830.7" font-size="19" text-anchor="middle" fill="#000" font-weight="normal" >Ho</text>
<path d="M818.7,801.9 V806.4" stroke="#000" stroke-width="1.6"/>
<text x="818.7" y="830.7" font-size="19" text-anchor="middle" fill="#000" font-weight="normal" >Er</text>
<path d="M851.7,801.9 V806.4" stroke="#000" stroke-width="1.6"/>
<text x="851.7" y="830.7" font-size="19" text-anchor="middle" fill="#000" font-weight="normal" >Tm</text>
<path d="M884.6,801.9 V806.4" stroke="#000" stroke-width="1.6"/>
<text x="884.6" y="830.7" font-size="19" text-anchor="middle" fill="#000" font-weight="normal" >Yb</text>
<path d="M917.6,801.9 V806.4" stroke="#000" stroke-width="1.6"/>
<text x="917.6" y="830.7" font-size="19" text-anchor="middle" fill="#000" font-weight="normal" >Lu</text>
<text transform="translate(430.6,660.4) rotate(-90)" font-size="19" text-anchor="middle">Sample/chondrite</text>
<text x="499" y="549.7" font-size="27" text-anchor="start" fill="#000" font-weight="bold" >d</text>
</svg></body></html>
